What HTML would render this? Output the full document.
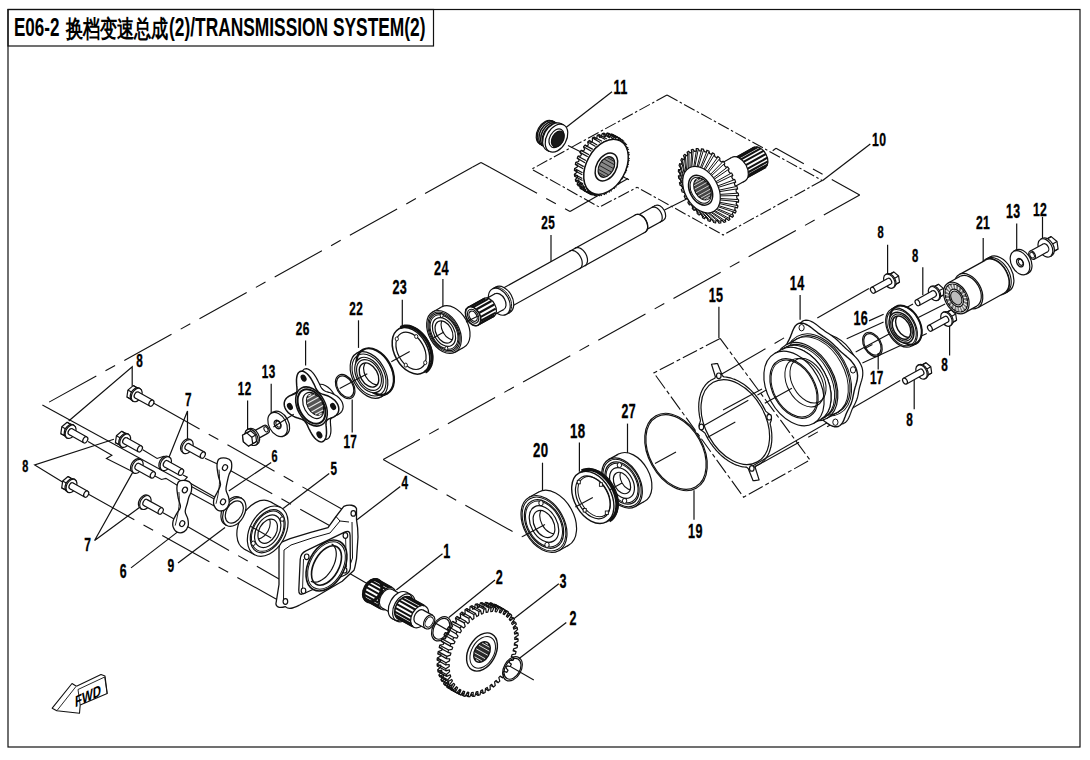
<!DOCTYPE html>
<html><head><meta charset="utf-8"><style>
html,body{margin:0;padding:0;background:#fff;}
svg{display:block;font-family:"Liberation Sans",sans-serif;}
text{fill:#000;}
</style></head><body>
<svg width="1090" height="760" viewBox="0 0 1090 760">
<rect x="0" y="0" width="1090" height="760" fill="#fff"/>
<rect x="8" y="9.5" width="1072" height="737.5" fill="none" stroke="#111" stroke-width="1.2"/>
<rect x="8" y="9.5" width="425.5" height="36.5" fill="none" stroke="#111" stroke-width="1.2"/>
<text x="14" y="36.3" font-size="26" font-weight="bold" textLength="45.5" lengthAdjust="spacingAndGlyphs">E06-2</text>
<text x="65.5" y="37.2" font-size="23.5" textLength="103" lengthAdjust="spacingAndGlyphs" style="font-weight:bold">换档变速总成</text>
<text x="169" y="36.3" font-size="26" font-weight="bold" textLength="256.5" lengthAdjust="spacingAndGlyphs">(2)/TRANSMISSION SYSTEM(2)</text>
<text font-size="20" font-weight="bold" letter-spacing="0.6" stroke="#000" stroke-width="0.35" transform="translate(613.4 94.2) scale(0.64 1)">11</text>
<text font-size="19.1" font-weight="bold" letter-spacing="0.6" stroke="#000" stroke-width="0.35" transform="translate(872 145.9) scale(0.64 1)">10</text>
<text font-size="18.4" font-weight="bold" letter-spacing="0.6" stroke="#000" stroke-width="0.35" transform="translate(541.2 228.9) scale(0.64 1)">25</text>
<text font-size="17.4" font-weight="bold" letter-spacing="0.6" stroke="#000" stroke-width="0.35" transform="translate(877.4 238.2) scale(0.64 1)">8</text>
<text font-size="17.6" font-weight="bold" letter-spacing="0.6" stroke="#000" stroke-width="0.35" transform="translate(912.1 261.8) scale(0.64 1)">8</text>
<text font-size="19.1" font-weight="bold" letter-spacing="0.6" stroke="#000" stroke-width="0.35" transform="translate(975.9 229.3) scale(0.64 1)">21</text>
<text font-size="19.3" font-weight="bold" letter-spacing="0.6" stroke="#000" stroke-width="0.35" transform="translate(1006.1 218.2) scale(0.64 1)">13</text>
<text font-size="19.1" font-weight="bold" letter-spacing="0.6" stroke="#000" stroke-width="0.35" transform="translate(1032.9 215.9) scale(0.64 1)">12</text>
<text font-size="19.9" font-weight="bold" letter-spacing="0.6" stroke="#000" stroke-width="0.35" transform="translate(434 275.1) scale(0.64 1)">24</text>
<text font-size="19.7" font-weight="bold" letter-spacing="0.6" stroke="#000" stroke-width="0.35" transform="translate(392.4 294.4) scale(0.64 1)">23</text>
<text font-size="18.4" font-weight="bold" letter-spacing="0.6" stroke="#000" stroke-width="0.35" transform="translate(349.2 314.9) scale(0.64 1)">22</text>
<text font-size="18.6" font-weight="bold" letter-spacing="0.6" stroke="#000" stroke-width="0.35" transform="translate(295.8 335.2) scale(0.64 1)">26</text>
<text font-size="19.7" font-weight="bold" letter-spacing="0.6" stroke="#000" stroke-width="0.35" transform="translate(789.8 289.5) scale(0.64 1)">14</text>
<text font-size="19.7" font-weight="bold" letter-spacing="0.6" stroke="#000" stroke-width="0.35" transform="translate(708.7 301.5) scale(0.64 1)">15</text>
<text font-size="19.7" font-weight="bold" letter-spacing="0.6" stroke="#000" stroke-width="0.35" transform="translate(853.4 325.4) scale(0.64 1)">16</text>
<text font-size="18.4" font-weight="bold" letter-spacing="0.6" stroke="#000" stroke-width="0.35" transform="translate(941.2 370.7) scale(0.64 1)">8</text>
<text font-size="18.4" font-weight="bold" letter-spacing="0.6" stroke="#000" stroke-width="0.35" transform="translate(869.9 383.5) scale(0.64 1)">17</text>
<text font-size="18.4" font-weight="bold" letter-spacing="0.6" stroke="#000" stroke-width="0.35" transform="translate(906.2 426) scale(0.64 1)">8</text>
<text font-size="18.4" font-weight="bold" letter-spacing="0.6" stroke="#000" stroke-width="0.35" transform="translate(136.2 366.9) scale(0.64 1)">8</text>
<text font-size="18.3" font-weight="bold" letter-spacing="0.6" stroke="#000" stroke-width="0.35" transform="translate(261.8 377.5) scale(0.64 1)">13</text>
<text font-size="18.3" font-weight="bold" letter-spacing="0.6" stroke="#000" stroke-width="0.35" transform="translate(237.8 395) scale(0.64 1)">12</text>
<text font-size="18.4" font-weight="bold" letter-spacing="0.6" stroke="#000" stroke-width="0.35" transform="translate(185 405.6) scale(0.64 1)">7</text>
<text font-size="18.4" font-weight="bold" letter-spacing="0.6" stroke="#000" stroke-width="0.35" transform="translate(343.4 447.8) scale(0.64 1)">17</text>
<text font-size="17" font-weight="bold" letter-spacing="0.6" stroke="#000" stroke-width="0.35" transform="translate(271.4 461.6) scale(0.64 1)">6</text>
<text font-size="17" font-weight="bold" letter-spacing="0.6" stroke="#000" stroke-width="0.35" transform="translate(22.2 471.6) scale(0.64 1)">8</text>
<text font-size="18.3" font-weight="bold" letter-spacing="0.6" stroke="#000" stroke-width="0.35" transform="translate(330.4 475.4) scale(0.64 1)">5</text>
<text font-size="18.4" font-weight="bold" letter-spacing="0.6" stroke="#000" stroke-width="0.35" transform="translate(401.6 488.6) scale(0.64 1)">4</text>
<text font-size="20.7" font-weight="bold" letter-spacing="0.6" stroke="#000" stroke-width="0.35" transform="translate(533 457.3) scale(0.64 1)">20</text>
<text font-size="20.7" font-weight="bold" letter-spacing="0.6" stroke="#000" stroke-width="0.35" transform="translate(569.9 438.3) scale(0.64 1)">18</text>
<text font-size="19.3" font-weight="bold" letter-spacing="0.6" stroke="#000" stroke-width="0.35" transform="translate(621.4 418.2) scale(0.64 1)">27</text>
<text font-size="19.6" font-weight="bold" letter-spacing="0.6" stroke="#000" stroke-width="0.35" transform="translate(688.1 538.4) scale(0.64 1)">19</text>
<text font-size="18.9" font-weight="bold" letter-spacing="0.6" stroke="#000" stroke-width="0.35" transform="translate(84.2 550.7) scale(0.64 1)">7</text>
<text font-size="19.3" font-weight="bold" letter-spacing="0.6" stroke="#000" stroke-width="0.35" transform="translate(119.7 577.7) scale(0.64 1)">6</text>
<text font-size="18.9" font-weight="bold" letter-spacing="0.6" stroke="#000" stroke-width="0.35" transform="translate(167.6 572.2) scale(0.64 1)">9</text>
<text font-size="19.6" font-weight="bold" letter-spacing="0.6" stroke="#000" stroke-width="0.35" transform="translate(443.2 557.7) scale(0.64 1)">1</text>
<text font-size="19.7" font-weight="bold" letter-spacing="0.6" stroke="#000" stroke-width="0.35" transform="translate(495.7 584) scale(0.64 1)">2</text>
<text font-size="19.6" font-weight="bold" letter-spacing="0.6" stroke="#000" stroke-width="0.35" transform="translate(559.4 587.7) scale(0.64 1)">3</text>
<text font-size="19.6" font-weight="bold" letter-spacing="0.6" stroke="#000" stroke-width="0.35" transform="translate(569.4 625.2) scale(0.64 1)">2</text>
<path d="M612 91.7L566.3 127.2" fill="none" stroke="#111" stroke-width="1.2"/>
<path d="M870.3 144L822.3 180.7" fill="none" stroke="#111" stroke-width="1.2"/>
<path d="M551 235L551 265.5" fill="none" stroke="#111" stroke-width="1.2"/>
<path d="M887.6 244.8L887.6 273.9" fill="none" stroke="#111" stroke-width="1.2"/>
<path d="M922.8 267.2L922.8 295" fill="none" stroke="#111" stroke-width="1.2"/>
<path d="M983.2 238L983.2 269.4" fill="none" stroke="#111" stroke-width="1.2"/>
<path d="M1016.7 223.6L1016.7 253.8" fill="none" stroke="#111" stroke-width="1.2"/>
<path d="M1042.5 216.8L1042.5 247" fill="none" stroke="#111" stroke-width="1.2"/>
<path d="M869 320.9L883.6 314.2" fill="none" stroke="#111" stroke-width="1.2"/>
<path d="M949.6 322L949.6 355.5" fill="none" stroke="#111" stroke-width="1.2"/>
<path d="M442.9 279L442.9 308" fill="none" stroke="#111" stroke-width="1.2"/>
<path d="M402.3 299.7L402.3 330" fill="none" stroke="#111" stroke-width="1.2"/>
<path d="M358.5 320.3L358.5 347.9" fill="none" stroke="#111" stroke-width="1.2"/>
<path d="M305.6 340.5L305.6 365.4" fill="none" stroke="#111" stroke-width="1.2"/>
<path d="M271.2 383.8L271.2 414.2" fill="none" stroke="#111" stroke-width="1.2"/>
<path d="M247.6 400.4L247.6 428.9" fill="none" stroke="#111" stroke-width="1.2"/>
<path d="M352.2 399.4L352.2 432.6" fill="none" stroke="#111" stroke-width="1.2"/>
<path d="M800.1 294.9L800.1 319.7" fill="none" stroke="#111" stroke-width="1.2"/>
<path d="M718.9 306.8L718.9 338.1" fill="none" stroke="#111" stroke-width="1.2"/>
<path d="M878.2 352.9L878.2 369.4" fill="none" stroke="#111" stroke-width="1.2"/>
<path d="M914.2 377.9L914.2 409.2" fill="none" stroke="#111" stroke-width="1.2"/>
<path d="M132.2 386L132.2 366.7L68.7 421" fill="none" stroke="#111" stroke-width="1.2"/>
<path d="M187.5 439.4L187.5 411L168 459.7" fill="none" stroke="#111" stroke-width="1.2"/>
<path d="M113.9 439.2L34.7 465L63.3 482.5" fill="none" stroke="#111" stroke-width="1.2"/>
<path d="M134.2 469.6L94.6 540.5L139.7 507.3" fill="none" stroke="#111" stroke-width="1.2"/>
<path d="M131 567.9L178 531.6" fill="none" stroke="#111" stroke-width="1.2"/>
<path d="M178 563L225 527.4" fill="none" stroke="#111" stroke-width="1.2"/>
<path d="M271.2 462.4L228.8 490.9" fill="none" stroke="#111" stroke-width="1.2"/>
<path d="M329.2 473.4L283.1 508.4" fill="none" stroke="#111" stroke-width="1.2"/>
<path d="M400.3 486.6L357 519.7" fill="none" stroke="#111" stroke-width="1.2"/>
<path d="M542.5 462.7L542.5 490.7" fill="none" stroke="#111" stroke-width="1.2"/>
<path d="M579.4 442.6L579.4 471.7" fill="none" stroke="#111" stroke-width="1.2"/>
<path d="M627.5 423.6L627.5 453.8" fill="none" stroke="#111" stroke-width="1.2"/>
<path d="M694 490.3L694 519.8" fill="none" stroke="#111" stroke-width="1.2"/>
<path d="M442.5 553.8L396.3 590" fill="none" stroke="#111" stroke-width="1.2"/>
<path d="M495 580L448.8 617.5" fill="none" stroke="#111" stroke-width="1.2"/>
<path d="M558.8 583.8L513.8 618.8" fill="none" stroke="#111" stroke-width="1.2"/>
<path d="M566.3 622.5L518.8 658.8" fill="none" stroke="#111" stroke-width="1.2"/>
<path d="M481 162.4L489.8 167.2" fill="none" stroke="#111" stroke-width="1.1"/>
<path d="M489.8 167.2L570 211.6" fill="none" stroke="#111" stroke-width="1.1" stroke-dasharray="54 10.5 11 10.5"/>
<path d="M481 162.4L472.3 167.3" fill="none" stroke="#111" stroke-width="1.1"/>
<path d="M472.3 167.3L43 405.5" fill="none" stroke="#111" stroke-width="1.1" stroke-dasharray="54 10.5 11 10.5"/>
<path d="M570 211.6L628 178.5" fill="none" stroke="#111" stroke-width="1.2"/>
<path d="M383.2 459.6L390.2 463.5" fill="none" stroke="#111" stroke-width="1.1"/>
<path d="M390.2 463.5L522.1 536.8" fill="none" stroke="#111" stroke-width="1.1" stroke-dasharray="54 10.5 11 10.5"/>
<path d="M383.2 459.6L859.7 195" fill="none" stroke="#111" stroke-width="1.1" stroke-dasharray="54 10.5 11 10.5" stroke-dashoffset="12"/>
<path d="M859.7 195L776 148.3" fill="none" stroke="#111" stroke-width="1.1" stroke-dasharray="54 10.5 11 10.5" stroke-dashoffset="22"/>
<path d="M776 148.3L772.7 150.7" fill="none" stroke="#111" stroke-width="1.1"/>
<path d="M822.2 180.5L723.1 235L637.2 187.3" fill="none" stroke="#111" stroke-width="1.1" stroke-dasharray="12 2.5 2.5 2.5"/>
<path d="M667 95L822.2 180.5" fill="none" stroke="#111" stroke-width="1.1" stroke-dasharray="12 2.5 2.5 2.5"/>
<path d="M667 95L531.6 169.2L599.3 207.1L637.2 187.3" fill="none" stroke="#111" stroke-width="1.1" stroke-dasharray="12 2.5 2.5 2.5"/>
<path d="M868.9 288.4L817.3 317.9" fill="none" stroke="#111" stroke-width="1.1"/>
<path d="M900.2 380.5L751.7 466.4" fill="none" stroke="#111" stroke-width="1.1"/>
<path d="M846.7 338.8L883.6 322" fill="none" stroke="#111" stroke-width="1.1"/>
<path d="M855.7 352L890 333.5" fill="none" stroke="#111" stroke-width="1.1"/>
<path d="M918.3 317.5L945.1 304" fill="none" stroke="#111" stroke-width="1.1"/>
<path d="M981 282.8L1009 267" fill="none" stroke="#111" stroke-width="1.1"/>
<path d="M1024 260.5L1032 256" fill="none" stroke="#111" stroke-width="1.1"/>
<path d="M872.4 344.4L864.5 348.8" fill="none" stroke="#111" stroke-width="1.1"/>
<path d="M913 303.9L887.3 317.9" fill="none" stroke="#111" stroke-width="1.1"/>
<path d="M862.4 362.9L926.8 333.4" fill="none" stroke="#111" stroke-width="1.1"/>
<path d="M568 145.6L581 152" fill="none" stroke="#111" stroke-width="1.1"/>
<path d="M664.5 210L686.6 199" fill="none" stroke="#111" stroke-width="1.1"/>
<path d="M348 572.6L533.8 680" fill="none" stroke="#111" stroke-width="1.1"/>
<path d="M152.5 402.6L351.9 514.7" fill="none" stroke="#111" stroke-width="1.1" stroke-dasharray="54 10.5 11 10.5"/>
<path d="M42.4 405.1L238 512" fill="none" stroke="#111" stroke-width="1.1"/>
<path d="M88 441.5L111.9 455.2L106.4 458.5L132.8 471.7" fill="none" stroke="#111" stroke-width="1.1"/>
<path d="M142.8 449.7L157.1 458.5L163.7 456.3L168 459" fill="none" stroke="#111" stroke-width="1.1"/>
<path d="M154.9 476.1L161.5 479.5L165.9 478.4L184.9 490" fill="none" stroke="#111" stroke-width="1.1"/>
<path d="M183 475L187.3 477.2L184.6 480L223 501.8" fill="none" stroke="#111" stroke-width="1.1"/>
<path d="M205 458.2L225 467.6" fill="none" stroke="#111" stroke-width="1.1"/>
<path d="M225 467.6L350.3 537" fill="none" stroke="#111" stroke-width="1.1" stroke-dasharray="54 10.5 11 10.5"/>
<path d="M184.9 490L291.1 547.9" fill="none" stroke="#111" stroke-width="1.1" stroke-dasharray="54 10.5 11 10.5"/>
<path d="M162.5 512.4L182.2 523.6" fill="none" stroke="#111" stroke-width="1.1"/>
<path d="M182.2 523.6L286 583" fill="none" stroke="#111" stroke-width="1.1" stroke-dasharray="54 10.5 11 10.5"/>
<path d="M87.2 493.5L286.3 604.8" fill="none" stroke="#111" stroke-width="1.1" stroke-dasharray="54 10.5 11 10.5"/>
<path d="M223 501.8L240.8 511.6" fill="none" stroke="#111" stroke-width="1.1"/>
<path d="M250 525.9L271.2 537.9" fill="none" stroke="#111" stroke-width="1.1"/>
<path d="M300 550L326 565" fill="none" stroke="#111" stroke-width="1.1"/>
<path d="M751.8 468.4L835.4 422.2" fill="none" stroke="#111" stroke-width="1.1" stroke-dasharray="54 10.5 11 10.5"/>
<path d="M718.8 375.8L801.6 327.7" fill="none" stroke="#111" stroke-width="1.1" stroke-dasharray="54 10.5 11 10.5"/>
<path d="M701.4 427L783.9 380" fill="none" stroke="#111" stroke-width="1.1" stroke-dasharray="54 10.5 11 10.5"/>
<path d="M617.9 174.2L629 179.7" fill="none" stroke="#111" stroke-width="1.1"/>
<ellipse cx="659.4" cy="212.9" rx="5.5" ry="8.4" transform="rotate(-29 659.4 212.9)" fill="#fff" stroke="#111" stroke-width="1.2"/>
<path d="M644.2 230.9L663.5 220.3L655.3 205.6L636.1 216.3Z" fill="#fff" stroke="none"/>
<path d="M644.2 230.9L663.5 220.3M636.1 216.3L655.3 205.6" stroke="#111" stroke-width="1.2" fill="none"/>
<ellipse cx="640.2" cy="223.6" rx="5.5" ry="8.4" transform="rotate(-29 640.2 223.6)" fill="#fff" stroke="#111" stroke-width="1.2"/>
<path d="M660 222.2L660.6 221.8L661.1 221.3L661.5 220.6L661.8 219.9L662.1 219.1L662.2 218.2L662.2 217.2L662.1 216.2L661.9 215.2L661.6 214.2L661.2 213.2L660.7 212.2L660.2 211.3L659.5 210.4L658.8 209.6L658.1 208.9L657.3 208.3L656.4 207.8L655.6 207.4L654.8 207.2L654 207.1L653.2 207.1L652.5 207.2L651.8 207.5" fill="none" stroke="#111" stroke-width="1.2"/>
<ellipse cx="640.2" cy="223.6" rx="6.6" ry="10" transform="rotate(-29 640.2 223.6)" fill="#fff" stroke="#111" stroke-width="1.2"/>
<path d="M507.7 308.5L645 232.3L635.3 214.9L498 291Z" fill="#fff" stroke="none"/>
<path d="M507.7 308.5L645 232.3M498 291L635.3 214.9" stroke="#111" stroke-width="1.2" fill="none"/>
<ellipse cx="502.8" cy="299.7" rx="6.6" ry="10" transform="rotate(-29 502.8 299.7)" fill="#fff" stroke="#111" stroke-width="1.2"/>
<path d="M645 232.3L645.7 231.9L646.3 231.2L646.8 230.5L647.2 229.6L647.5 228.6L647.7 227.5L647.7 226.4L647.6 225.2L647.3 224L647 222.8L646.5 221.6L645.9 220.4L645.2 219.3L644.5 218.2L643.6 217.3L642.7 216.5L641.8 215.7L640.8 215.2L639.8 214.7L638.8 214.4L637.9 214.3L637 214.3L636.1 214.5L635.3 214.9" fill="none" stroke="#111" stroke-width="1.2"/>
<path d="M579.5 268.9L580.2 268.4L580.9 267.7L581.4 267L581.8 266.1L582.1 265.1L582.2 264L582.2 262.8L582.1 261.6L581.9 260.4L581.5 259.1L581 257.9L580.4 256.7L579.7 255.6L579 254.5L578.1 253.5L577.2 252.7L576.2 251.9L575.2 251.3L574.2 250.9L573.2 250.6L572.2 250.5L571.3 250.5L570.4 250.7L569.6 251" fill="none" stroke="#111" stroke-width="1.2"/>
<path d="M584.7 266L585.5 265.5L586.1 264.8L586.6 264L587 263.1L587.3 262.1L587.5 261.1L587.5 259.9L587.4 258.7L587.1 257.5L586.8 256.2L586.3 255L585.7 253.8L585 252.7L584.2 251.6L583.4 250.6L582.4 249.8L581.5 249L580.5 248.4L579.5 248L578.5 247.7L577.5 247.6L576.6 247.6L575.7 247.8L574.9 248.1" fill="none" stroke="#111" stroke-width="1.2"/>
<ellipse cx="502.8" cy="299.7" rx="9.6" ry="14.5" transform="rotate(-29 502.8 299.7)" fill="#fff" stroke="#111" stroke-width="1.2"/>
<path d="M506.4 314.3L509.9 312.4L495.8 287L492.3 289Z" fill="#fff" stroke="none"/>
<path d="M506.4 314.3L509.9 312.4M492.3 289L495.8 287" stroke="#111" stroke-width="1.2" fill="none"/>
<ellipse cx="499.3" cy="301.7" rx="9.6" ry="14.5" transform="rotate(-29 499.3 301.7)" fill="#fff" stroke="#111" stroke-width="1.2"/>
<path d="M507.7 313.6L508.7 312.9L509.6 312L510.3 310.9L510.9 309.6L511.3 308.2L511.5 306.6L511.6 305L511.4 303.3L511.1 301.5L510.6 299.7L509.9 298L509 296.3L508 294.7L506.9 293.2L505.7 291.8L504.4 290.6L503 289.5L501.6 288.7L500.2 288L498.7 287.6L497.4 287.4L496 287.5L494.8 287.7L493.6 288.2" fill="none" stroke="#111" stroke-width="1"/>
<ellipse cx="499.3" cy="301.7" rx="5.9" ry="9" transform="rotate(-29 499.3 301.7)" fill="#fff" stroke="#111" stroke-width="1.2"/>
<path d="M493.2 315.3L503.7 309.5L495 293.8L484.5 299.6Z" fill="#fff" stroke="none"/>
<path d="M493.2 315.3L503.7 309.5M484.5 299.6L495 293.8" stroke="#111" stroke-width="1.2" fill="none"/>
<ellipse cx="488.8" cy="307.5" rx="5.9" ry="9" transform="rotate(-29 488.8 307.5)" fill="#fff" stroke="#111" stroke-width="1.2"/>
<ellipse cx="488.8" cy="307.5" rx="6.7" ry="10.2" transform="rotate(-29 488.8 307.5)" fill="#fff" stroke="#111" stroke-width="1.2"/>
<path d="M478 325.1L493.8 316.4L483.9 298.6L468.2 307.3Z" fill="#fff" stroke="none"/>
<path d="M478 325.1L493.8 316.4M468.2 307.3L483.9 298.6" stroke="#111" stroke-width="1.2" fill="none"/>
<ellipse cx="473.1" cy="316.2" rx="6.7" ry="10.2" transform="rotate(-29 473.1 316.2)" fill="#fff" stroke="#111" stroke-width="1.2"/>
<path d="M479.5 323.8L494.4 315.5" fill="none" stroke="#111" stroke-width="2.2"/>
<path d="M480.9 320.8L495.8 312.6" fill="none" stroke="#111" stroke-width="2.2"/>
<path d="M480.8 316.9L495.7 308.6" fill="none" stroke="#111" stroke-width="2.2"/>
<path d="M479.3 312.8L494.2 304.5" fill="none" stroke="#111" stroke-width="2.2"/>
<path d="M476.6 309.3L491.5 301" fill="none" stroke="#111" stroke-width="2.2"/>
<path d="M473.3 307.1L488.2 298.9" fill="none" stroke="#111" stroke-width="2.2"/>
<path d="M470.1 306.7L485 298.5" fill="none" stroke="#111" stroke-width="2.2"/>
<ellipse cx="473.1" cy="316.2" rx="6.7" ry="10.2" transform="rotate(-29 473.1 316.2)" fill="#fff" stroke="#111" stroke-width="1.6"/>
<ellipse cx="473.1" cy="316.2" rx="5" ry="7.5" transform="rotate(-29 473.1 316.2)" fill="#fff" stroke="#111" stroke-width="1.1"/>
<ellipse cx="473.1" cy="316.2" rx="3.6" ry="5.5" transform="rotate(-29 473.1 316.2)" fill="#fff" stroke="#111" stroke-width="1.2"/>
<ellipse cx="759.2" cy="157.7" rx="7.6" ry="11.5" transform="rotate(-29 759.2 157.7)" fill="#fff" stroke="#111" stroke-width="1.2"/>
<path d="M743.8 179.4L764.8 167.8L753.6 147.6L732.7 159.3Z" fill="#fff" stroke="none"/>
<path d="M743.8 179.4L764.8 167.8M732.7 159.3L753.6 147.6" stroke="#111" stroke-width="1.2" fill="none"/>
<ellipse cx="738.2" cy="169.3" rx="7.6" ry="11.5" transform="rotate(-29 738.2 169.3)" fill="#fff" stroke="#111" stroke-width="1.2"/>
<path d="M744.9 178.6L765.9 167" fill="none" stroke="#111" stroke-width="2.1"/>
<path d="M746.4 176.2L767.4 164.6" fill="none" stroke="#111" stroke-width="2.1"/>
<path d="M746.9 173L767.9 161.3" fill="none" stroke="#111" stroke-width="2.1"/>
<path d="M746.4 169.3L767.4 157.7" fill="none" stroke="#111" stroke-width="2.1"/>
<path d="M744.9 165.7L765.9 154" fill="none" stroke="#111" stroke-width="2.1"/>
<path d="M742.6 162.4L763.6 150.8" fill="none" stroke="#111" stroke-width="2.1"/>
<path d="M739.7 160.1L760.7 148.4" fill="none" stroke="#111" stroke-width="2.1"/>
<path d="M736.7 158.8L757.7 147.2" fill="none" stroke="#111" stroke-width="2.1"/>
<path d="M733.9 158.8L754.9 147.2" fill="none" stroke="#111" stroke-width="2.1"/>
<ellipse cx="738.2" cy="169.3" rx="8.9" ry="13.5" transform="rotate(-29 738.2 169.3)" fill="#fff" stroke="#111" stroke-width="1.2"/>
<path d="M723.8 192.8L744.8 181.1L731.7 157.5L710.7 169.2Z" fill="#fff" stroke="none"/>
<path d="M723.8 192.8L744.8 181.1M710.7 169.2L731.7 157.5" stroke="#111" stroke-width="1.2" fill="none"/>
<ellipse cx="717.2" cy="181" rx="8.9" ry="13.5" transform="rotate(-29 717.2 181)" fill="#fff" stroke="#111" stroke-width="1.2"/>
<path d="M726.7 218.6L728.5 220.4L729.9 219.5L729.1 216.9L730.3 215.9L732.3 217.3L733.5 216L732.3 213.5L733.3 212.1L735.3 213.1L736.1 211.4L734.7 209.1L735.3 207.4L737.4 208L737.9 206L736.2 203.9L736.5 202L738.5 202.1L738.6 199.9L736.8 198.1L736.7 196L738.6 195.7L738.3 193.4L736.3 191.9L736 189.7L737.6 188.9L737 186.5L735 185.5L734.3 183.3L735.7 182.1L734.8 179.7L732.7 179.1L731.7 176.9L732.8 175.3L731.6 173L729.6 172.9L728.4 170.8L729.1 168.9L727.6 166.8L725.8 167.2L724.3 165.3L724.7 163.1L723 161.2L721.4 162.1L719.8 160.5L719.8 158.1L717.9 156.5L716.6 157.8L714.8 156.5L714.4 154L712.5 152.8L711.5 154.4L709.6 153.5L708.9 151L706.9 150.2L706.3 152.1L704.4 151.6L703.3 149.1L701.4 148.8L701.1 151L699.4 150.9L698 148.6L696.2 148.7L696.2 151.1L694.6 151.4L693 149.3L691.3 149.8L691.8 152.3L690.3 153L688.5 151.2L687.1 152.2L687.9 154.7L686.6 155.8L684.7 154.3L683.5 155.7L684.7 158.1L683.7 159.6L681.7 158.5L680.8 160.2L682.3 162.5L681.6 164.3L679.6 163.6L679.1 165.6L680.8 167.7L680.5 169.7L678.5 169.5L678.4 171.7L680.2 173.5L680.3 175.6L678.4 175.9L678.7 178.3L680.6 179.7L681 181.9L679.4 182.7L680 185.1L682 186.1L682.7 188.4L681.3 189.6L682.2 192L684.3 192.5L685.3 194.7L684.2 196.3L685.4 198.6L687.4 198.7L688.6 200.8L687.9 202.7L689.4 204.8L691.2 204.5L692.7 206.3L692.3 208.5L694 210.4L695.6 209.6L697.2 211.2L697.2 213.6L699.1 215.1L700.4 213.9L702.2 215.2L702.6 217.7L704.5 218.8L705.5 217.2L707.3 218.1L708.1 220.7L710.1 221.5L710.7 219.5L712.6 220L713.7 222.5L715.6 222.8L715.9 220.6L717.6 220.7L719 223.1L720.8 223L720.8 220.6L722.4 220.3L724 222.4L725.7 221.8L725.2 219.3Z" fill="#fff" stroke="#111" stroke-width="1.2" stroke-linejoin="round"/>
<path d="M714 211.3L728 219.6" fill="none" stroke="#111" stroke-width="1"/>
<path d="M714.9 210.7L729.4 218.6" fill="none" stroke="#111" stroke-width="1"/>
<path d="M716.4 209.4L731.7 216.5" fill="none" stroke="#111" stroke-width="1"/>
<path d="M717.1 208.5L732.8 215.2" fill="none" stroke="#111" stroke-width="1"/>
<path d="M718.3 206.8L734.6 212.4" fill="none" stroke="#111" stroke-width="1"/>
<path d="M718.8 205.7L735.5 210.8" fill="none" stroke="#111" stroke-width="1"/>
<path d="M719.6 203.6L736.7 207.5" fill="none" stroke="#111" stroke-width="1"/>
<path d="M719.9 202.3L737.2 205.5" fill="none" stroke="#111" stroke-width="1"/>
<path d="M720.2 199.9L737.7 201.7" fill="none" stroke="#111" stroke-width="1"/>
<path d="M720.3 198.5L737.9 199.6" fill="none" stroke="#111" stroke-width="1"/>
<path d="M720.3 195.9L737.8 195.5" fill="none" stroke="#111" stroke-width="1"/>
<path d="M720.2 194.4L737.6 193.2" fill="none" stroke="#111" stroke-width="1"/>
<path d="M719.7 191.6L736.9 188.9" fill="none" stroke="#111" stroke-width="1"/>
<path d="M719.3 190.1L736.3 186.5" fill="none" stroke="#111" stroke-width="1"/>
<path d="M718.5 187.3L735 182.2" fill="none" stroke="#111" stroke-width="1"/>
<path d="M717.9 185.9L734.1 179.8" fill="none" stroke="#111" stroke-width="1"/>
<path d="M716.7 183.1L732.2 175.6" fill="none" stroke="#111" stroke-width="1"/>
<path d="M715.9 181.7L731 173.3" fill="none" stroke="#111" stroke-width="1"/>
<path d="M714.4 179.1L728.6 169.3" fill="none" stroke="#111" stroke-width="1"/>
<path d="M713.5 177.8L727.2 167.3" fill="none" stroke="#111" stroke-width="1"/>
<path d="M711.6 175.5L724.3 163.7" fill="none" stroke="#111" stroke-width="1"/>
<path d="M710.6 174.3L722.7 161.9" fill="none" stroke="#111" stroke-width="1"/>
<path d="M708.5 172.4L719.5 158.8" fill="none" stroke="#111" stroke-width="1"/>
<path d="M707.4 171.4L717.7 157.3" fill="none" stroke="#111" stroke-width="1"/>
<path d="M705.2 169.8L714.3 154.8" fill="none" stroke="#111" stroke-width="1"/>
<path d="M704 169.1L712.4 153.6" fill="none" stroke="#111" stroke-width="1"/>
<path d="M701.7 167.9L708.9 151.8" fill="none" stroke="#111" stroke-width="1"/>
<path d="M700.5 167.4L707 151.1" fill="none" stroke="#111" stroke-width="1"/>
<path d="M698.3 166.8L703.5 150.1" fill="none" stroke="#111" stroke-width="1"/>
<path d="M697.1 166.6L701.6 149.7" fill="none" stroke="#111" stroke-width="1"/>
<path d="M694.9 166.4L698.2 149.5" fill="none" stroke="#111" stroke-width="1"/>
<path d="M693.8 166.5L696.5 149.6" fill="none" stroke="#111" stroke-width="1"/>
<path d="M691.8 166.9L693.3 150.2" fill="none" stroke="#111" stroke-width="1"/>
<path d="M690.8 167.2L691.7 150.7" fill="none" stroke="#111" stroke-width="1"/>
<path d="M689 168.1L689 152.1" fill="none" stroke="#111" stroke-width="1"/>
<path d="M688.1 168.7L687.6 153" fill="none" stroke="#111" stroke-width="1"/>
<path d="M686.6 170L685.3 155.1" fill="none" stroke="#111" stroke-width="1"/>
<path d="M685.9 170.9L684.2 156.4" fill="none" stroke="#111" stroke-width="1"/>
<path d="M684.7 172.6L682.4 159.2" fill="none" stroke="#111" stroke-width="1"/>
<path d="M684.2 173.7L681.5 160.8" fill="none" stroke="#111" stroke-width="1"/>
<path d="M683.4 175.8L680.3 164.2" fill="none" stroke="#111" stroke-width="1"/>
<path d="M683.1 177.1L679.8 166.1" fill="none" stroke="#111" stroke-width="1"/>
<path d="M682.8 179.5L679.3 169.9" fill="none" stroke="#111" stroke-width="1"/>
<path d="M682.7 180.9L679.1 172.1" fill="none" stroke="#111" stroke-width="1"/>
<path d="M682.7 183.5L679.2 176.2" fill="none" stroke="#111" stroke-width="1"/>
<path d="M682.8 185L679.4 178.5" fill="none" stroke="#111" stroke-width="1"/>
<path d="M683.3 187.8L680.1 182.8" fill="none" stroke="#111" stroke-width="1"/>
<path d="M683.7 189.3L680.7 185.1" fill="none" stroke="#111" stroke-width="1"/>
<path d="M684.5 192.1L682 189.5" fill="none" stroke="#111" stroke-width="1"/>
<path d="M685.1 193.5L682.9 191.8" fill="none" stroke="#111" stroke-width="1"/>
<path d="M686.3 196.3L684.8 196.1" fill="none" stroke="#111" stroke-width="1"/>
<path d="M687.1 197.7L686 198.3" fill="none" stroke="#111" stroke-width="1"/>
<path d="M688.6 200.3L688.4 202.3" fill="none" stroke="#111" stroke-width="1"/>
<path d="M689.5 201.6L689.8 204.4" fill="none" stroke="#111" stroke-width="1"/>
<path d="M691.4 203.9L692.7 208" fill="none" stroke="#111" stroke-width="1"/>
<path d="M692.4 205.1L694.3 209.8" fill="none" stroke="#111" stroke-width="1"/>
<path d="M694.5 207L697.5 212.9" fill="none" stroke="#111" stroke-width="1"/>
<path d="M695.6 208L699.3 214.4" fill="none" stroke="#111" stroke-width="1"/>
<path d="M697.8 209.6L702.7 216.9" fill="none" stroke="#111" stroke-width="1"/>
<path d="M699 210.3L704.6 218" fill="none" stroke="#111" stroke-width="1"/>
<path d="M701.3 211.5L708.1 219.8" fill="none" stroke="#111" stroke-width="1"/>
<path d="M702.5 212L710 220.6" fill="none" stroke="#111" stroke-width="1"/>
<path d="M704.7 212.6L713.5 221.6" fill="none" stroke="#111" stroke-width="1"/>
<path d="M705.9 212.8L715.4 221.9" fill="none" stroke="#111" stroke-width="1"/>
<path d="M708.1 213L718.8 222.1" fill="none" stroke="#111" stroke-width="1"/>
<path d="M709.2 212.9L720.5 222" fill="none" stroke="#111" stroke-width="1"/>
<path d="M711.2 212.5L723.6 221.5" fill="none" stroke="#111" stroke-width="1"/>
<path d="M712.2 212.2L725.2 220.9" fill="none" stroke="#111" stroke-width="1"/>
<ellipse cx="701.5" cy="189.7" rx="16.5" ry="25" transform="rotate(-29 701.5 189.7)" fill="#fff" stroke="#111" stroke-width="1.2"/>
<ellipse cx="700.6" cy="190.2" rx="10.6" ry="16" transform="rotate(-29 700.6 190.2)" fill="#fff" stroke="#111" stroke-width="1.5"/>
<ellipse cx="700.6" cy="190.2" rx="9.2" ry="14" transform="rotate(-29 700.6 190.2)" fill="#fff" stroke="#111" stroke-width="1"/>
<ellipse cx="702.4" cy="189.2" rx="7.6" ry="11.5" transform="rotate(-29 702.4 189.2)" fill="#444" stroke="#111" stroke-width="1.2"/>
<path d="M708.7 198.1L706.5 199.3" fill="none" stroke="#ccc" stroke-width="1"/>
<path d="M710.2 195.8L703.8 199.3" fill="none" stroke="#ccc" stroke-width="1"/>
<path d="M710.7 192.7L700.9 198.1" fill="none" stroke="#ccc" stroke-width="1"/>
<path d="M710.2 189.2L698.2 195.8" fill="none" stroke="#ccc" stroke-width="1"/>
<path d="M708.7 185.7L696 192.7" fill="none" stroke="#ccc" stroke-width="1"/>
<path d="M706.5 182.6L694.6 189.2" fill="none" stroke="#ccc" stroke-width="1"/>
<path d="M703.8 180.3L694.1 185.7" fill="none" stroke="#ccc" stroke-width="1"/>
<path d="M700.9 179.1L694.6 182.6" fill="none" stroke="#ccc" stroke-width="1"/>
<path d="M698.2 179.1L696 180.4" fill="none" stroke="#ccc" stroke-width="1"/>
<path d="M885.5 276.5L889.9 274.1L893.8 271.9L898.6 276L899.5 282.2L891.2 286.8L886.4 282.8Z" fill="#fff" stroke="#111" stroke-width="1.2" stroke-linejoin="round"/>
<path d="M895.1 284.7L899.5 282.2" fill="none" stroke="#111" stroke-width="1.1"/>
<path d="M894.2 278.4L898.6 276" fill="none" stroke="#111" stroke-width="1.1"/>
<path d="M889.4 274.4L893.8 271.9" fill="none" stroke="#111" stroke-width="1.1"/>
<path d="M885.5 276.5L889.9 274.1" fill="none" stroke="#111" stroke-width="1.1"/>
<path d="M895.1 284.7L894.2 278.4L889.4 274.4L885.5 276.5L886.4 282.8L891.2 286.8Z" fill="#fff" stroke="#111" stroke-width="1.2" stroke-linejoin="round"/>
<ellipse cx="890.3" cy="280.6" rx="5" ry="7.6" transform="rotate(-29 890.3 280.6)" fill="#fff" stroke="#111" stroke-width="1.2"/>
<path d="M892.9 287.8L894 287.2L886.6 274L885.6 274.5Z" fill="#fff" stroke="none"/>
<path d="M892.9 287.8L894 287.2M885.6 274.5L886.6 274" stroke="#111" stroke-width="1.2" fill="none"/>
<ellipse cx="889.3" cy="281.2" rx="5" ry="7.6" transform="rotate(-29 889.3 281.2)" fill="#fff" stroke="#111" stroke-width="1.2"/>
<ellipse cx="889.3" cy="281.2" rx="2.1" ry="3.2" transform="rotate(-29 889.3 281.2)" fill="#fff" stroke="#111" stroke-width="1.2"/>
<path d="M874.4 293.1L890.8 284L887.7 278.4L871.3 287.5Z" fill="#fff" stroke="none"/>
<path d="M874.4 293.1L890.8 284M871.3 287.5L887.7 278.4" stroke="#111" stroke-width="1.2" fill="none"/>
<ellipse cx="872.8" cy="290.3" rx="2.1" ry="3.2" transform="rotate(-29 872.8 290.3)" fill="#fff" stroke="#111" stroke-width="1.2"/>
<path d="M930.2 288.9L934.6 286.5L938.5 284.3L943.3 288.4L944.2 294.6L935.9 299.2L931.1 295.2Z" fill="#fff" stroke="#111" stroke-width="1.2" stroke-linejoin="round"/>
<path d="M939.8 297.1L944.2 294.6" fill="none" stroke="#111" stroke-width="1.1"/>
<path d="M938.9 290.8L943.3 288.4" fill="none" stroke="#111" stroke-width="1.1"/>
<path d="M934.1 286.8L938.5 284.3" fill="none" stroke="#111" stroke-width="1.1"/>
<path d="M930.2 288.9L934.6 286.5" fill="none" stroke="#111" stroke-width="1.1"/>
<path d="M939.8 297.1L938.9 290.8L934.1 286.8L930.2 288.9L931.1 295.2L935.9 299.2Z" fill="#fff" stroke="#111" stroke-width="1.2" stroke-linejoin="round"/>
<ellipse cx="935" cy="293" rx="5" ry="7.6" transform="rotate(-29 935 293)" fill="#fff" stroke="#111" stroke-width="1.2"/>
<path d="M937.6 300.2L938.7 299.6L931.3 286.4L930.3 286.9Z" fill="#fff" stroke="none"/>
<path d="M937.6 300.2L938.7 299.6M930.3 286.9L931.3 286.4" stroke="#111" stroke-width="1.2" fill="none"/>
<ellipse cx="934" cy="293.6" rx="5" ry="7.6" transform="rotate(-29 934 293.6)" fill="#fff" stroke="#111" stroke-width="1.2"/>
<ellipse cx="934" cy="293.6" rx="2.1" ry="3.2" transform="rotate(-29 934 293.6)" fill="#fff" stroke="#111" stroke-width="1.2"/>
<path d="M919.1 305.5L935.5 296.4L932.4 290.8L916 299.9Z" fill="#fff" stroke="none"/>
<path d="M919.1 305.5L935.5 296.4M916 299.9L932.4 290.8" stroke="#111" stroke-width="1.2" fill="none"/>
<ellipse cx="917.5" cy="302.7" rx="2.1" ry="3.2" transform="rotate(-29 917.5 302.7)" fill="#fff" stroke="#111" stroke-width="1.2"/>
<path d="M942.6 314.5L947 312.1L950.9 309.9L955.7 314L956.6 320.2L948.3 324.8L943.5 320.8Z" fill="#fff" stroke="#111" stroke-width="1.2" stroke-linejoin="round"/>
<path d="M952.2 322.7L956.6 320.2" fill="none" stroke="#111" stroke-width="1.1"/>
<path d="M951.3 316.4L955.7 314" fill="none" stroke="#111" stroke-width="1.1"/>
<path d="M946.5 312.4L950.9 309.9" fill="none" stroke="#111" stroke-width="1.1"/>
<path d="M942.6 314.5L947 312.1" fill="none" stroke="#111" stroke-width="1.1"/>
<path d="M952.2 322.7L951.3 316.4L946.5 312.4L942.6 314.5L943.5 320.8L948.3 324.8Z" fill="#fff" stroke="#111" stroke-width="1.2" stroke-linejoin="round"/>
<ellipse cx="947.4" cy="318.6" rx="5" ry="7.6" transform="rotate(-29 947.4 318.6)" fill="#fff" stroke="#111" stroke-width="1.2"/>
<path d="M950 325.8L951.1 325.2L943.7 312L942.7 312.5Z" fill="#fff" stroke="none"/>
<path d="M950 325.8L951.1 325.2M942.7 312.5L943.7 312" stroke="#111" stroke-width="1.2" fill="none"/>
<ellipse cx="946.4" cy="319.2" rx="5" ry="7.6" transform="rotate(-29 946.4 319.2)" fill="#fff" stroke="#111" stroke-width="1.2"/>
<ellipse cx="946.4" cy="319.2" rx="2.1" ry="3.2" transform="rotate(-29 946.4 319.2)" fill="#fff" stroke="#111" stroke-width="1.2"/>
<path d="M931.5 331.1L947.9 322L944.8 316.4L928.4 325.5Z" fill="#fff" stroke="none"/>
<path d="M931.5 331.1L947.9 322M928.4 325.5L944.8 316.4" stroke="#111" stroke-width="1.2" fill="none"/>
<ellipse cx="929.9" cy="328.3" rx="2.1" ry="3.2" transform="rotate(-29 929.9 328.3)" fill="#fff" stroke="#111" stroke-width="1.2"/>
<path d="M917.7 367.3L922.1 364.9L926 362.7L930.8 366.8L931.7 373L923.4 377.6L918.6 373.6Z" fill="#fff" stroke="#111" stroke-width="1.2" stroke-linejoin="round"/>
<path d="M927.3 375.5L931.7 373" fill="none" stroke="#111" stroke-width="1.1"/>
<path d="M926.4 369.2L930.8 366.8" fill="none" stroke="#111" stroke-width="1.1"/>
<path d="M921.6 365.2L926 362.7" fill="none" stroke="#111" stroke-width="1.1"/>
<path d="M917.7 367.3L922.1 364.9" fill="none" stroke="#111" stroke-width="1.1"/>
<path d="M927.3 375.5L926.4 369.2L921.6 365.2L917.7 367.3L918.6 373.6L923.4 377.6Z" fill="#fff" stroke="#111" stroke-width="1.2" stroke-linejoin="round"/>
<ellipse cx="922.5" cy="371.4" rx="5" ry="7.6" transform="rotate(-29 922.5 371.4)" fill="#fff" stroke="#111" stroke-width="1.2"/>
<path d="M925.1 378.6L926.2 378L918.8 364.8L917.8 365.3Z" fill="#fff" stroke="none"/>
<path d="M925.1 378.6L926.2 378M917.8 365.3L918.8 364.8" stroke="#111" stroke-width="1.2" fill="none"/>
<ellipse cx="921.5" cy="372" rx="5" ry="7.6" transform="rotate(-29 921.5 372)" fill="#fff" stroke="#111" stroke-width="1.2"/>
<ellipse cx="921.5" cy="372" rx="2.1" ry="3.2" transform="rotate(-29 921.5 372)" fill="#fff" stroke="#111" stroke-width="1.2"/>
<path d="M906.6 383.9L923 374.8L919.9 369.2L903.5 378.3Z" fill="#fff" stroke="none"/>
<path d="M906.6 383.9L923 374.8M903.5 378.3L919.9 369.2" stroke="#111" stroke-width="1.2" fill="none"/>
<ellipse cx="905" cy="381.1" rx="2.1" ry="3.2" transform="rotate(-29 905 381.1)" fill="#fff" stroke="#111" stroke-width="1.2"/>
<path d="M1041.2 242.1L1046.4 239.2L1051.2 236.6L1057 241.5L1058.1 249L1052.8 251.9L1048.1 254.5L1042.3 249.6Z" fill="#fff" stroke="#111" stroke-width="1.2" stroke-linejoin="round"/>
<path d="M1052.8 251.9L1058.1 249" fill="none" stroke="#111" stroke-width="1.1"/>
<path d="M1051.7 244.4L1057 241.5" fill="none" stroke="#111" stroke-width="1.1"/>
<path d="M1045.9 239.5L1051.2 236.6" fill="none" stroke="#111" stroke-width="1.1"/>
<path d="M1041.2 242.1L1046.4 239.2" fill="none" stroke="#111" stroke-width="1.1"/>
<path d="M1052.8 251.9L1051.7 244.4L1045.9 239.5L1041.2 242.1L1042.3 249.6L1048.1 254.5Z" fill="#fff" stroke="#111" stroke-width="1.2" stroke-linejoin="round"/>
<ellipse cx="1047" cy="247" rx="6.5" ry="9.8" transform="rotate(-29 1047 247)" fill="#fff" stroke="#111" stroke-width="1.2"/>
<path d="M1050.2 256.4L1051.8 255.6L1042.2 238.4L1040.7 239.3Z" fill="#fff" stroke="none"/>
<path d="M1050.2 256.4L1051.8 255.6M1040.7 239.3L1042.2 238.4" stroke="#111" stroke-width="1.2" fill="none"/>
<ellipse cx="1045.4" cy="247.9" rx="6.5" ry="9.8" transform="rotate(-29 1045.4 247.9)" fill="#fff" stroke="#111" stroke-width="1.2"/>
<ellipse cx="1045.4" cy="247.9" rx="3" ry="4.5" transform="rotate(-29 1045.4 247.9)" fill="#fff" stroke="#111" stroke-width="1.2"/>
<path d="M1034.3 259.2L1047.6 251.8L1043.2 243.9L1029.9 251.3Z" fill="#fff" stroke="none"/>
<path d="M1034.3 259.2L1047.6 251.8M1029.9 251.3L1043.2 243.9" stroke="#111" stroke-width="1.2" fill="none"/>
<ellipse cx="1032.1" cy="255.2" rx="3" ry="4.5" transform="rotate(-29 1032.1 255.2)" fill="#fff" stroke="#111" stroke-width="1.2"/>
<ellipse cx="1032.1" cy="255.2" rx="2" ry="3" transform="rotate(-29 1032.1 255.2)" fill="none" stroke="#111" stroke-width="1"/>
<ellipse cx="1022.2" cy="261.5" rx="8.6" ry="13" transform="rotate(-29 1022.2 261.5)" fill="#fff" stroke="#111" stroke-width="1.2"/>
<path d="M1026.3 274.1L1028.5 272.9L1015.9 250.1L1013.7 251.3Z" fill="#fff" stroke="none"/>
<path d="M1026.3 274.1L1028.5 272.9M1013.7 251.3L1015.9 250.1" stroke="#111" stroke-width="1.2" fill="none"/>
<ellipse cx="1020" cy="262.7" rx="8.6" ry="13" transform="rotate(-29 1020 262.7)" fill="#fff" stroke="#111" stroke-width="1.2"/>
<ellipse cx="1020" cy="262.7" rx="3" ry="4.5" transform="rotate(-29 1020 262.7)" fill="#fff" stroke="#111" stroke-width="1.4"/>
<ellipse cx="1020.7" cy="262.3" rx="2.1" ry="3.2" transform="rotate(-29 1020.7 262.3)" fill="none" stroke="#111" stroke-width="1"/>
<ellipse cx="999.2" cy="274.2" rx="12.9" ry="19.5" transform="rotate(-29 999.2 274.2)" fill="#fff" stroke="#111" stroke-width="1.2"/>
<path d="M1004.2 293.7L1008.6 291.3L989.7 257.2L985.3 259.6Z" fill="#fff" stroke="none"/>
<path d="M1004.2 293.7L1008.6 291.3M985.3 259.6L989.7 257.2" stroke="#111" stroke-width="1.2" fill="none"/>
<ellipse cx="994.8" cy="276.7" rx="12.9" ry="19.5" transform="rotate(-29 994.8 276.7)" fill="#fff" stroke="#111" stroke-width="1.2"/>
<path d="M1006 292.8L1007.4 291.8L1008.6 290.6L1009.6 289.1L1010.3 287.3L1010.9 285.4L1011.2 283.3L1011.2 281.1L1011 278.8L1010.5 276.5L1009.9 274.1L1008.9 271.7L1007.8 269.5L1006.5 267.3L1005 265.3L1003.3 263.4L1001.6 261.8L999.7 260.4L997.8 259.2L995.9 258.4L994 257.8L992.1 257.6L990.3 257.6L988.6 258L987.1 258.6" fill="none" stroke="#111" stroke-width="1.1"/>
<ellipse cx="994.8" cy="276.7" rx="12.5" ry="19" transform="rotate(-29 994.8 276.7)" fill="#fff" stroke="#111" stroke-width="1.2"/>
<path d="M977.8 307.8L1004 293.3L985.6 260.1L959.3 274.6Z" fill="#fff" stroke="none"/>
<path d="M977.8 307.8L1004 293.3M959.3 274.6L985.6 260.1" stroke="#111" stroke-width="1.2" fill="none"/>
<ellipse cx="968.5" cy="291.2" rx="12.5" ry="19" transform="rotate(-29 968.5 291.2)" fill="#fff" stroke="#111" stroke-width="1.2"/>
<ellipse cx="968.5" cy="291.2" rx="11.2" ry="17" transform="rotate(-29 968.5 291.2)" fill="#fff" stroke="#111" stroke-width="1.2"/>
<path d="M964.5 312.9L976.8 306.1L960.3 276.3L948.1 283.1Z" fill="#fff" stroke="none"/>
<path d="M964.5 312.9L976.8 306.1M948.1 283.1L960.3 276.3" stroke="#111" stroke-width="1.2" fill="none"/>
<ellipse cx="956.3" cy="298" rx="11.2" ry="17" transform="rotate(-29 956.3 298)" fill="#fff" stroke="#111" stroke-width="1.2"/>
<ellipse cx="956.3" cy="298" rx="9.9" ry="15" transform="rotate(-29 956.3 298)" fill="#777" stroke="#111" stroke-width="1.2"/>
<path d="M960.9 306.3L963.3 310.7" fill="none" stroke="#eee" stroke-width="1.2"/>
<path d="M962.4 305L965.6 308.6" fill="none" stroke="#eee" stroke-width="1.2"/>
<path d="M963.2 302.9L966.9 305.5" fill="none" stroke="#eee" stroke-width="1.2"/>
<path d="M963.4 300.4L967.2 301.7" fill="none" stroke="#eee" stroke-width="1.2"/>
<path d="M962.9 297.7L966.4 297.5" fill="none" stroke="#eee" stroke-width="1.2"/>
<path d="M961.8 295L964.7 293.4" fill="none" stroke="#eee" stroke-width="1.2"/>
<path d="M960.1 292.5L962.1 289.7" fill="none" stroke="#eee" stroke-width="1.2"/>
<path d="M958 290.7L958.9 286.8" fill="none" stroke="#eee" stroke-width="1.2"/>
<path d="M955.8 289.5L955.5 285" fill="none" stroke="#eee" stroke-width="1.2"/>
<path d="M953.6 289.2L952.2 284.5" fill="none" stroke="#eee" stroke-width="1.2"/>
<path d="M951.7 289.7L949.3 285.3" fill="none" stroke="#eee" stroke-width="1.2"/>
<path d="M950.2 291L947 287.4" fill="none" stroke="#eee" stroke-width="1.2"/>
<path d="M949.4 293.1L945.7 290.5" fill="none" stroke="#eee" stroke-width="1.2"/>
<path d="M949.2 295.6L945.4 294.3" fill="none" stroke="#eee" stroke-width="1.2"/>
<path d="M949.7 298.3L946.2 298.5" fill="none" stroke="#eee" stroke-width="1.2"/>
<path d="M950.8 301L947.9 302.6" fill="none" stroke="#eee" stroke-width="1.2"/>
<path d="M952.5 303.5L950.5 306.3" fill="none" stroke="#eee" stroke-width="1.2"/>
<path d="M954.6 305.3L953.7 309.2" fill="none" stroke="#eee" stroke-width="1.2"/>
<path d="M956.8 306.5L957.1 311" fill="none" stroke="#eee" stroke-width="1.2"/>
<path d="M959 306.8L960.4 311.5" fill="none" stroke="#eee" stroke-width="1.2"/>
<ellipse cx="956.3" cy="298" rx="6.3" ry="9.5" transform="rotate(-29 956.3 298)" fill="#fff" stroke="#111" stroke-width="1.2"/>
<ellipse cx="956.3" cy="298" rx="5" ry="7.5" transform="rotate(-29 956.3 298)" fill="#bbb" stroke="#111" stroke-width="1.1"/>
<ellipse cx="905.9" cy="325.2" rx="13.9" ry="21" transform="rotate(-29 905.9 325.2)" fill="#fff" stroke="#111" stroke-width="1.2"/>
<path d="M911.7 346L916.1 343.5L895.7 306.8L891.3 309.2Z" fill="#fff" stroke="none"/>
<path d="M911.7 346L916.1 343.5M891.3 309.2L895.7 306.8" stroke="#111" stroke-width="1.2" fill="none"/>
<ellipse cx="901.5" cy="327.6" rx="13.9" ry="21" transform="rotate(-29 901.5 327.6)" fill="#fff" stroke="#111" stroke-width="1.2"/>
<ellipse cx="905.9" cy="325.2" rx="13.9" ry="21" transform="rotate(-29 905.9 325.2)" fill="none" stroke="#111" stroke-width="2"/>
<ellipse cx="901.5" cy="327.6" rx="12.9" ry="19.5" transform="rotate(-29 901.5 327.6)" fill="none" stroke="#111" stroke-width="1"/>
<ellipse cx="901.5" cy="327.6" rx="10.9" ry="16.5" transform="rotate(-29 901.5 327.6)" fill="#fff" stroke="#111" stroke-width="1.5"/>
<ellipse cx="901.5" cy="327.6" rx="9.6" ry="14.5" transform="rotate(-29 901.5 327.6)" fill="#fff" stroke="#111" stroke-width="1.1"/>
<clipPath id="cp1"><ellipse cx="901.5" cy="327.6" rx="8.2" ry="12.5" transform="rotate(-29 901.5 327.6)"/></clipPath>
<ellipse cx="901.5" cy="327.6" rx="8.2" ry="12.5" transform="rotate(-29 901.5 327.6)" fill="#fff" stroke="#111" stroke-width="1.5"/>
<g clip-path="url(#cp1)"><ellipse cx="905" cy="325.7" rx="8.2" ry="12.5" transform="rotate(-29 905 325.7)" fill="none" stroke="#111" stroke-width="1.4"/></g>
<ellipse cx="872.4" cy="344.4" rx="8.6" ry="13" transform="rotate(-29 872.4 344.4)" fill="none" stroke="#111" stroke-width="1.2"/>
<ellipse cx="872.4" cy="344.4" rx="7.6" ry="11.5" transform="rotate(-29 872.4 344.4)" fill="none" stroke="#111" stroke-width="1.2"/>
<ellipse cx="834.2" cy="366.2" rx="22.4" ry="34" transform="rotate(-29 834.2 366.2)" fill="#fff" stroke="#111" stroke-width="1.2"/>
<path d="M840.2 401.8L850.7 395.9L817.7 336.5L807.3 342.3Z" fill="#fff" stroke="none"/>
<path d="M840.2 401.8L850.7 395.9M807.3 342.3L817.7 336.5" stroke="#111" stroke-width="1.2" fill="none"/>
<ellipse cx="823.7" cy="372" rx="22.4" ry="34" transform="rotate(-29 823.7 372)" fill="#fff" stroke="#111" stroke-width="1.2"/>
<path d="M848.9 417.5L849.8 415.4L850.6 413.4L851.3 411.4L852 409.6L852.8 407.9L853.6 406.3L854.5 404.7L855.3 403.1L856 401.5L856.7 399.8L857.3 398L857.8 396.2L858.2 394.3L858.5 392.3L858.9 390.4L859.3 388.4L859.8 386.5L860.4 384.5L861 382.4L861.7 380.2L862.3 377.9L862.7 375.4L862.8 372.8L862.6 370.1L862 367.4L860.9 364.7L859.5 362.1L857.8 359.7L855.8 357.4L853.8 355.4L851.7 353.5L849.6 351.8L847.7 350.1L845.8 348.5L844.1 346.8L842.4 345.2L840.7 343.5L839.1 341.9L837.4 340.3L835.7 338.8L834 337.4L832.2 336.1L830.4 334.8L828.6 333.6L826.8 332.4L825 331.2L823.1 329.8L821.2 328.4L819.1 326.8L817 325.1L814.8 323.5L812.6 322.1L810.3 321L808 320.3L805.9 320.1L803.9 320.5L802.2 321.4L800.8 322.8L799.5 324.6L798.5 326.5L797.7 328.6L796.9 330.7L796.2 332.6L795.4 334.4L794.7 336.1L793.8 337.8L793 339.3L792.2 340.9L791.5 342.5L790.8 344.2L790.2 346L789.7 347.9L789.3 349.8L788.9 351.7L788.6 353.6L788.2 355.6L787.7 357.6L787.1 359.6L786.5 361.7L785.8 363.8L785.2 366.1L784.8 368.6L784.7 371.2L784.9 373.9L785.5 376.6L786.5 379.3L788 381.9L789.7 384.4L791.7 386.6L793.7 388.7L795.8 390.5L797.9 392.3L799.8 393.9L801.6 395.6L803.4 397.2L805.1 398.9L806.7 400.5L808.4 402.2L810.1 403.7L811.8 405.2L813.5 406.6L815.3 408L817.1 409.2L818.9 410.4L820.7 411.6L822.5 412.8L824.4 414.2L826.3 415.7L828.3 417.3L830.4 418.9L832.6 420.5L834.9 421.9L837.2 423.1L839.5 423.8L841.6 423.9L843.5 423.6L845.3 422.6L846.7 421.2L847.9 419.5Z" fill="#fff" stroke="#111" stroke-width="1.2" stroke-linejoin="round"/>
<path d="M841.3 416L846.5 413.1L801 330.9L795.7 333.8Z" fill="#fff" stroke="none"/>
<path d="M841.3 416L846.5 413.1M795.7 333.8L801 330.9" stroke="#111" stroke-width="1.2" fill="none"/>
<path d="M843.7 420.4L844.5 418.3L845.3 416.3L846 414.3L846.8 412.5L847.6 410.8L848.4 409.2L849.2 407.6L850 406L850.8 404.4L851.4 402.7L852 400.9L852.5 399.1L852.9 397.2L853.3 395.2L853.7 393.3L854.1 391.3L854.6 389.4L855.1 387.4L855.8 385.3L856.4 383.1L857 380.8L857.4 378.3L857.6 375.7L857.3 373L856.7 370.3L855.7 367.6L854.3 365L852.5 362.6L850.6 360.3L848.5 358.3L846.4 356.4L844.4 354.7L842.4 353L840.6 351.4L838.8 349.7L837.2 348.1L835.5 346.4L833.8 344.8L832.2 343.2L830.5 341.7L828.7 340.3L827 339L825.2 337.7L823.4 336.6L821.6 335.4L819.7 334.1L817.8 332.8L815.9 331.3L813.9 329.7L811.8 328L809.6 326.4L807.3 325L805 323.9L802.8 323.2L800.6 323L798.7 323.4L797 324.3L795.5 325.7L794.3 327.5L793.3 329.5L792.4 331.5L791.7 333.6L790.9 335.5L790.2 337.4L789.4 339L788.6 340.7L787.8 342.2L787 343.8L786.2 345.4L785.5 347.1L785 348.9L784.5 350.8L784.1 352.7L783.7 354.6L783.3 356.6L782.9 358.5L782.4 360.5L781.8 362.5L781.2 364.6L780.6 366.7L780 369.1L779.6 371.5L779.4 374.1L779.6 376.8L780.3 379.6L781.3 382.3L782.7 384.9L784.4 387.3L786.4 389.5L788.5 391.6L790.6 393.4L792.6 395.2L794.6 396.8L796.4 398.5L798.1 400.1L799.8 401.8L801.5 403.4L803.1 405.1L804.8 406.6L806.5 408.1L808.3 409.6L810 410.9L811.8 412.1L813.6 413.3L815.4 414.5L817.3 415.7L819.1 417.1L821.1 418.6L823.1 420.2L825.2 421.8L827.4 423.4L829.7 424.8L832 426L834.2 426.7L836.3 426.8L838.3 426.5L840 425.5L841.5 424.1L842.7 422.4Z" fill="#fff" stroke="#111" stroke-width="1.4" stroke-linejoin="round"/>
<ellipse cx="818.5" cy="374.9" rx="29" ry="44" transform="rotate(-29 818.5 374.9)" fill="none" stroke="#111" stroke-width="1"/>
<ellipse cx="835.4" cy="422.2" rx="2.6" ry="3.2" fill="#fff" stroke="#111" stroke-width="1"/>
<ellipse cx="853" cy="369.9" rx="2.6" ry="3.2" fill="#fff" stroke="#111" stroke-width="1"/>
<ellipse cx="801.6" cy="327.7" rx="2.6" ry="3.2" fill="#fff" stroke="#111" stroke-width="1"/>
<ellipse cx="818.5" cy="374.9" rx="27.7" ry="42" transform="rotate(-29 818.5 374.9)" fill="#fff" stroke="#111" stroke-width="1.2"/>
<path d="M826.6 418.4L838.9 411.7L798.1 338.2L785.9 345Z" fill="#fff" stroke="none"/>
<path d="M826.6 418.4L838.9 411.7M785.9 345L798.1 338.2" stroke="#111" stroke-width="1.2" fill="none"/>
<ellipse cx="806.2" cy="381.7" rx="27.7" ry="42" transform="rotate(-29 806.2 381.7)" fill="#fff" stroke="#111" stroke-width="1.2"/>
<ellipse cx="816.7" cy="375.9" rx="27.7" ry="42" transform="rotate(-29 816.7 375.9)" fill="none" stroke="#111" stroke-width="1"/>
<ellipse cx="806.2" cy="381.7" rx="26.4" ry="40" transform="rotate(-29 806.2 381.7)" fill="#fff" stroke="#111" stroke-width="1.2"/>
<path d="M820.4 419.6L825.6 416.7L786.9 346.7L781.6 349.6Z" fill="#fff" stroke="none"/>
<path d="M820.4 419.6L825.6 416.7M781.6 349.6L786.9 346.7" stroke="#111" stroke-width="1.2" fill="none"/>
<ellipse cx="801" cy="384.6" rx="26.4" ry="40" transform="rotate(-29 801 384.6)" fill="#fff" stroke="#111" stroke-width="1.2"/>
<ellipse cx="804.5" cy="382.7" rx="26.4" ry="40" transform="rotate(-29 804.5 382.7)" fill="none" stroke="#111" stroke-width="1"/>
<ellipse cx="801" cy="384.6" rx="26.4" ry="40" transform="rotate(-29 801 384.6)" fill="#fff" stroke="#111" stroke-width="1.2"/>
<path d="M813.4 423.5L820.4 419.6L781.6 349.6L774.6 353.5Z" fill="#fff" stroke="none"/>
<path d="M813.4 423.5L820.4 419.6M774.6 353.5L781.6 349.6" stroke="#111" stroke-width="1.2" fill="none"/>
<ellipse cx="794" cy="388.5" rx="26.4" ry="40" transform="rotate(-29 794 388.5)" fill="#fff" stroke="#111" stroke-width="1.2"/>
<ellipse cx="794" cy="388.5" rx="21.1" ry="32" transform="rotate(-29 794 388.5)" fill="#fff" stroke="#111" stroke-width="1.2"/>
<ellipse cx="794" cy="388.5" rx="20.1" ry="30.5" transform="rotate(-29 794 388.5)" fill="#fff" stroke="#111" stroke-width="1"/>
<ellipse cx="804.5" cy="382.7" rx="17.2" ry="26" transform="rotate(-29 804.5 382.7)" fill="none" stroke="#111" stroke-width="1"/>
<ellipse cx="808" cy="380.7" rx="15.8" ry="24" transform="rotate(-29 808 380.7)" fill="none" stroke="#111" stroke-width="1"/>
<path d="M720.1 338.4L653.8 372.9L743.6 497.2L810 460L720.1 338.4" fill="none" stroke="#111" stroke-width="1.1" stroke-dasharray="16 3 4 3"/>
<path d="M758.8 464.5L759.8 464L760.7 463.3L761.6 462.7L762.5 461.9L763.3 461.2L764.1 460.4L764.9 459.5L765.6 458.6L766.3 457.6L767 456.7L767.6 455.6L768.2 454.5L768.7 453.4L769.2 452.3L769.7 451.1L770.1 449.8L770.4 448.6L770.8 447.3L771.1 446L771.3 444.6L771.5 443.2L771.7 441.8L771.8 440.4L771.8 439L771.9 437.5L771.8 436L771.8 434.5L771.7 433L771.5 431.4L771.3 429.9L771.1 428.3L770.8 426.7L770.4 425.2L770.1 423.6L770.6 422L771.3 420.3L771.5 418.6L771.2 416.9L770.3 415.2L768.9 413.7L767.2 412.4L765.6 411.1L764.9 409.6L764.1 408.1L763.3 406.6L762.5 405.1L761.6 403.7L760.7 402.2L759.8 400.8L758.8 399.5L757.8 398.1L756.8 396.8L755.7 395.5L754.7 394.2L753.6 393L752.4 391.8L751.3 390.7L750.2 389.6L749 388.5L747.8 387.5L746.6 386.5L745.4 385.5L744.1 384.6L742.9 383.8L741.6 382.9L740.4 382.2L739.1 381.5L737.8 380.8L736.6 380.2L735.3 379.6L734 379.1L732.7 378.7L731.5 378.3L730.2 377.9L728.9 377.6L727.7 377.4L726.4 377.2L725.2 377L724 377L722.4 375.7L717.5 363.5L716 363.6L714.5 363.8L713 364L711.5 364.3L715.4 376.7L714.8 378.3L713.8 378.7L712.8 379.2L711.8 379.7L710.8 380.2L709.9 380.9L709 381.5L708.1 382.3L707.3 383L706.5 383.8L705.7 384.7L705 385.6L704.3 386.6L703.6 387.5L703 388.6L702.4 389.7L701.9 390.8L701.4 391.9L700.9 393.1L700.5 394.4L700.2 395.6L699.8 396.9L699.5 398.2L699.3 399.6L699.1 401L698.9 402.4L698.8 403.8L698.8 405.2L698.7 406.7L698.8 408.2L698.8 409.7L698.9 411.2L699.1 412.8L699.3 414.3L699.5 415.9L699.8 417.5L700.2 419L700.5 420.6L700 422.2L699.3 423.9L699.1 425.6L699.4 427.3L700.3 429L701.7 430.5L703.4 431.8L705 433.1L705.7 434.6L706.5 436.1L707.3 437.6L708.1 439.1L709 440.5L709.9 442L710.8 443.4L711.8 444.7L712.8 446.1L713.8 447.4L714.9 448.7L715.9 450L717 451.2L718.2 452.4L719.3 453.5L720.4 454.6L721.6 455.7L722.8 456.7L724 457.7L725.2 458.7L726.5 459.6L727.7 460.4L729 461.3L730.2 462L731.5 462.7L732.8 463.4L734 464L735.3 464.6L736.6 465.1L737.9 465.5L739.1 465.9L740.4 466.3L741.7 466.6L742.9 466.8L744.2 467L745.4 467.2L746.6 467.2L748.2 468.5L753.1 480.7L754.6 480.6L756.1 480.4L757.6 480.2L759.1 479.9L755.2 467.5L755.8 465.9L756.8 465.5L757.8 465Z" fill="none" stroke="#111" stroke-width="1.2" stroke-linejoin="round"/>
<ellipse cx="735.3" cy="422.1" rx="30" ry="45.5" transform="rotate(-29 735.3 422.1)" fill="none" stroke="#111" stroke-width="1.2"/>
<ellipse cx="751.8" cy="468.4" rx="2.3" ry="2.8" fill="#fff" stroke="#111" stroke-width="1.2"/>
<ellipse cx="769.2" cy="417.2" rx="2.3" ry="2.8" fill="#fff" stroke="#111" stroke-width="1.2"/>
<ellipse cx="718.8" cy="375.8" rx="2.3" ry="2.8" fill="#fff" stroke="#111" stroke-width="1.2"/>
<ellipse cx="701.4" cy="427" rx="2.3" ry="2.8" fill="#fff" stroke="#111" stroke-width="1.2"/>
<ellipse cx="676" cy="452" rx="27.4" ry="41.5" transform="rotate(-29 676 452)" fill="none" stroke="#111" stroke-width="1.2"/>
<ellipse cx="676" cy="452" rx="26.4" ry="40" transform="rotate(-29 676 452)" fill="none" stroke="#111" stroke-width="1.2"/>
<ellipse cx="631.6" cy="477.7" rx="17.8" ry="27" transform="rotate(-29 631.6 477.7)" fill="#fff" stroke="#111" stroke-width="1.2"/>
<path d="M635.1 506.6L644.7 501.3L618.5 454.1L608.9 459.4Z" fill="#fff" stroke="none"/>
<path d="M635.1 506.6L644.7 501.3M608.9 459.4L618.5 454.1" stroke="#111" stroke-width="1.2" fill="none"/>
<ellipse cx="622" cy="483" rx="17.8" ry="27" transform="rotate(-29 622 483)" fill="#fff" stroke="#111" stroke-width="1.2"/>
<ellipse cx="622" cy="483" rx="16.8" ry="25.4" transform="rotate(-29 622 483)" fill="none" stroke="#111" stroke-width="1"/>
<ellipse cx="622" cy="483" rx="15" ry="22.7" transform="rotate(-29 622 483)" fill="#fff" stroke="#111" stroke-width="1.2"/>
<ellipse cx="622" cy="483" rx="14" ry="21.2" transform="rotate(-29 622 483)" fill="none" stroke="#111" stroke-width="1"/>
<ellipse cx="619.4" cy="465.1" rx="2.2" ry="2.5" fill="#fff" stroke="#111" stroke-width="1"/>
<ellipse cx="624.6" cy="500.9" rx="2.2" ry="2.5" fill="#fff" stroke="#111" stroke-width="1"/>
<ellipse cx="622" cy="483" rx="10.9" ry="16.5" transform="rotate(-29 622 483)" fill="#fff" stroke="#111" stroke-width="1.2"/>
<clipPath id="cp2"><ellipse cx="622" cy="483" rx="7.6" ry="11.5" transform="rotate(-29 622 483)"/></clipPath>
<ellipse cx="622" cy="483" rx="7.6" ry="11.5" transform="rotate(-29 622 483)" fill="#fff" stroke="#111" stroke-width="1.2"/>
<g clip-path="url(#cp2)"><ellipse cx="628.7" cy="479.3" rx="7.6" ry="11.5" transform="rotate(-29 628.7 479.3)" fill="none" stroke="#111" stroke-width="1.1"/></g>
<ellipse cx="597.2" cy="495" rx="18.5" ry="28" transform="rotate(-29 597.2 495)" fill="#fff" stroke="#111" stroke-width="1.4"/>
<path d="M606.4 521.9L610.7 519.5L583.6 470.5L579.2 472.9Z" fill="#fff" stroke="none"/>
<path d="M606.4 521.9L610.7 519.5M579.2 472.9L583.6 470.5" stroke="#111" stroke-width="1.4" fill="none"/>
<ellipse cx="592.8" cy="497.4" rx="18.5" ry="28" transform="rotate(-29 592.8 497.4)" fill="#fff" stroke="#111" stroke-width="1.4"/>
<path d="M609.2 520.9L611.3 519.5L613 517.7L614.5 515.5L615.6 513L616.4 510.2L616.8 507.1L616.9 503.9L616.6 500.5L615.9 497.1L614.9 493.6L613.5 490.2L611.9 486.8L609.9 483.7L607.7 480.7L605.3 478L602.8 475.6L600.1 473.5L597.3 471.9L594.5 470.6L591.7 469.8L589 469.4L586.3 469.5L583.9 470L581.6 471" fill="none" stroke="#111" stroke-width="3.2"/>
<ellipse cx="592.8" cy="497.4" rx="15.2" ry="23" transform="rotate(-29 592.8 497.4)" fill="#fff" stroke="#111" stroke-width="1.2"/>
<ellipse cx="594.1" cy="496.7" rx="14.2" ry="21.5" transform="rotate(-29 594.1 496.7)" fill="none" stroke="#111" stroke-width="1"/>
<rect x="605.3" y="511" width="3" height="3.5" fill="#fff" stroke="#111" stroke-width="0.9"/>
<rect x="599.4" y="482.8" width="3" height="3.5" fill="#fff" stroke="#111" stroke-width="0.9"/>
<rect x="577.3" y="480.3" width="3" height="3.5" fill="#fff" stroke="#111" stroke-width="0.9"/>
<rect x="583.2" y="508.5" width="3" height="3.5" fill="#fff" stroke="#111" stroke-width="0.9"/>
<ellipse cx="553.6" cy="518.7" rx="20.1" ry="30.5" transform="rotate(-29 553.6 518.7)" fill="#fff" stroke="#111" stroke-width="1.2"/>
<path d="M558.8 550.7L568.4 545.3L538.8 492L529.2 497.3Z" fill="#fff" stroke="none"/>
<path d="M558.8 550.7L568.4 545.3M529.2 497.3L538.8 492" stroke="#111" stroke-width="1.2" fill="none"/>
<ellipse cx="544" cy="524" rx="20.1" ry="30.5" transform="rotate(-29 544 524)" fill="#fff" stroke="#111" stroke-width="1.2"/>
<ellipse cx="544" cy="524" rx="19.1" ry="28.9" transform="rotate(-29 544 524)" fill="none" stroke="#111" stroke-width="1"/>
<ellipse cx="544" cy="524" rx="17.2" ry="26" transform="rotate(-29 544 524)" fill="#fff" stroke="#111" stroke-width="1.2"/>
<ellipse cx="544" cy="524" rx="16.2" ry="24.5" transform="rotate(-29 544 524)" fill="none" stroke="#111" stroke-width="1"/>
<ellipse cx="541" cy="503.1" rx="2.2" ry="2.6" fill="#fff" stroke="#111" stroke-width="1"/>
<ellipse cx="547" cy="544.9" rx="2.2" ry="2.6" fill="#fff" stroke="#111" stroke-width="1"/>
<ellipse cx="544" cy="524" rx="12.9" ry="19.6" transform="rotate(-29 544 524)" fill="#fff" stroke="#111" stroke-width="1.2"/>
<clipPath id="cp3"><ellipse cx="544" cy="524" rx="9.6" ry="14.5" transform="rotate(-29 544 524)"/></clipPath>
<ellipse cx="544" cy="524" rx="9.6" ry="14.5" transform="rotate(-29 544 524)" fill="#fff" stroke="#111" stroke-width="1.2"/>
<g clip-path="url(#cp3)"><ellipse cx="550.7" cy="520.3" rx="9.6" ry="14.5" transform="rotate(-29 550.7 520.3)" fill="none" stroke="#111" stroke-width="1.1"/></g>
<ellipse cx="452.7" cy="327.2" rx="15.2" ry="23" transform="rotate(-29 452.7 327.2)" fill="#fff" stroke="#111" stroke-width="1.2"/>
<path d="M455.2 352.1L463.9 347.3L441.6 307L432.8 311.9Z" fill="#fff" stroke="none"/>
<path d="M455.2 352.1L463.9 347.3M432.8 311.9L441.6 307" stroke="#111" stroke-width="1.2" fill="none"/>
<ellipse cx="444" cy="332" rx="15.2" ry="23" transform="rotate(-29 444 332)" fill="#fff" stroke="#111" stroke-width="1.2"/>
<ellipse cx="444" cy="332" rx="14.1" ry="21.4" transform="rotate(-29 444 332)" fill="none" stroke="#111" stroke-width="1"/>
<ellipse cx="444" cy="332" rx="13.1" ry="19.9" transform="rotate(-29 444 332)" fill="#fff" stroke="#111" stroke-width="1.2"/>
<ellipse cx="444" cy="332" rx="12.2" ry="18.4" transform="rotate(-29 444 332)" fill="none" stroke="#111" stroke-width="1"/>
<ellipse cx="441.7" cy="315.7" rx="1.5" ry="1.8" fill="#fff" stroke="#111" stroke-width="1"/>
<ellipse cx="446.3" cy="348.3" rx="1.5" ry="1.8" fill="#fff" stroke="#111" stroke-width="1"/>
<ellipse cx="444" cy="332" rx="10.2" ry="15.5" transform="rotate(-29 444 332)" fill="#fff" stroke="#111" stroke-width="1.2"/>
<clipPath id="cp4"><ellipse cx="444" cy="332" rx="7.9" ry="12" transform="rotate(-29 444 332)"/></clipPath>
<ellipse cx="444" cy="332" rx="7.9" ry="12" transform="rotate(-29 444 332)" fill="#fff" stroke="#111" stroke-width="1.2"/>
<g clip-path="url(#cp4)"><ellipse cx="450.1" cy="328.6" rx="7.9" ry="12" transform="rotate(-29 450.1 328.6)" fill="none" stroke="#111" stroke-width="1.1"/></g>
<ellipse cx="413.6" cy="349.3" rx="16.5" ry="25" transform="rotate(-29 413.6 349.3)" fill="#fff" stroke="#111" stroke-width="1.5"/>
<path d="M423.1 372.7L425.7 371.2L401.5 327.5L398.9 328.9Z" fill="#fff" stroke="none"/>
<path d="M423.1 372.7L425.7 371.2M398.9 328.9L401.5 327.5" stroke="#111" stroke-width="1.5" fill="none"/>
<ellipse cx="411" cy="350.8" rx="16.5" ry="25" transform="rotate(-29 411 350.8)" fill="#fff" stroke="#111" stroke-width="1.5"/>
<path d="M425.1 372.1L426.9 370.9L428.5 369.3L429.8 367.3L430.8 365.1L431.5 362.6L431.9 359.8L432 356.9L431.7 353.9L431.1 350.8L430.2 347.7L429 344.7L427.5 341.7L425.7 338.8L423.8 336.2L421.6 333.8L419.3 331.6L416.9 329.8L414.4 328.3L411.9 327.2L409.4 326.4L407 326.1L404.6 326.2L402.4 326.7L400.4 327.5" fill="none" stroke="#111" stroke-width="3.2"/>
<ellipse cx="411" cy="350.8" rx="13.2" ry="20" transform="rotate(-29 411 350.8)" fill="#fff" stroke="#111" stroke-width="1.2"/>
<ellipse cx="425.2" cy="362.7" rx="1.6" ry="2" fill="#fff" stroke="#111" stroke-width="0.9"/>
<ellipse cx="416.2" cy="336.5" rx="1.6" ry="2" fill="#fff" stroke="#111" stroke-width="0.9"/>
<ellipse cx="396.8" cy="338.9" rx="1.6" ry="2" fill="#fff" stroke="#111" stroke-width="0.9"/>
<ellipse cx="405.8" cy="365.1" rx="1.6" ry="2" fill="#fff" stroke="#111" stroke-width="0.9"/>
<ellipse cx="375.1" cy="371.6" rx="16.5" ry="25" transform="rotate(-29 375.1 371.6)" fill="#fff" stroke="#111" stroke-width="1.2"/>
<path d="M381.1 396.9L387.2 393.5L363 349.7L356.9 353.1Z" fill="#fff" stroke="none"/>
<path d="M381.1 396.9L387.2 393.5M356.9 353.1L363 349.7" stroke="#111" stroke-width="1.2" fill="none"/>
<ellipse cx="369" cy="375" rx="16.5" ry="25" transform="rotate(-29 369 375)" fill="#fff" stroke="#111" stroke-width="1.2"/>
<ellipse cx="375.1" cy="371.6" rx="16.5" ry="25" transform="rotate(-29 375.1 371.6)" fill="none" stroke="#111" stroke-width="2.2"/>
<ellipse cx="369" cy="375" rx="14.9" ry="22.5" transform="rotate(-29 369 375)" fill="none" stroke="#111" stroke-width="1.1"/>
<ellipse cx="369" cy="375" rx="12.5" ry="19" transform="rotate(-29 369 375)" fill="#fff" stroke="#111" stroke-width="1.2"/>
<ellipse cx="369" cy="375" rx="10.9" ry="16.5" transform="rotate(-29 369 375)" fill="#fff" stroke="#111" stroke-width="1.1"/>
<clipPath id="cp5"><ellipse cx="369" cy="375" rx="8.6" ry="13" transform="rotate(-29 369 375)"/></clipPath>
<ellipse cx="369" cy="375" rx="8.6" ry="13" transform="rotate(-29 369 375)" fill="#fff" stroke="#111" stroke-width="1.4"/>
<g clip-path="url(#cp5)"><ellipse cx="373.4" cy="372.6" rx="8.6" ry="13" transform="rotate(-29 373.4 372.6)" fill="none" stroke="#111" stroke-width="1.2"/></g>
<ellipse cx="345.2" cy="386.6" rx="8.6" ry="13" transform="rotate(-29 345.2 386.6)" fill="none" stroke="#111" stroke-width="1.2"/>
<ellipse cx="345.2" cy="386.6" rx="7.6" ry="11.5" transform="rotate(-29 345.2 386.6)" fill="none" stroke="#111" stroke-width="1.2"/>
<ellipse cx="324.6" cy="399.2" rx="10.6" ry="16" transform="rotate(-29 324.6 399.2)" fill="#fff" stroke="#111" stroke-width="1.2"/>
<path d="M322.8 418.6L332.4 413.2L316.9 385.2L307.2 390.6Z" fill="#fff" stroke="none"/>
<path d="M322.8 418.6L332.4 413.2M307.2 390.6L316.9 385.2" stroke="#111" stroke-width="1.2" fill="none"/>
<ellipse cx="315" cy="404.6" rx="10.6" ry="16" transform="rotate(-29 315 404.6)" fill="#fff" stroke="#111" stroke-width="1.2"/>
<path d="M330.9 431.1L330.9 429.1L330.8 427.1L330.6 425.2L330.5 423.5L330.4 422L330.4 420.7L330.5 419.7L330.8 418.8L331.2 418.1L331.7 417.4L332.4 416.9L333.3 416.5L334.4 416L335.6 415.6L336.9 415.1L338.3 414.4L339.6 413.6L340.8 412.5L341.8 411.3L342.6 409.8L343 408.2L343.2 406.5L342.9 404.6L342.4 402.8L341.5 401L340.3 399.3L338.8 397.7L337.2 396.3L335.5 395.2L333.7 394.2L332 393.4L330.3 392.8L328.7 392.3L327.3 391.9L326 391.5L324.9 391L324 390.5L323.1 389.8L322.4 389L321.6 388.1L320.9 387L320.2 385.6L319.5 384.1L318.6 382.3L317.7 380.4L316.6 378.4L315.4 376.3L314.1 374.4L312.7 372.6L311.2 371.1L309.6 369.9L308 369.1L306.5 368.7L305.2 368.8L303.9 369.3L302.9 370.3L302.1 371.6L301.5 373.2L301.1 375.1L300.9 377L300.9 379.1L301 381.1L301.1 383L301.3 384.7L301.4 386.2L301.4 387.4L301.2 388.5L301 389.4L300.6 390.1L300 390.7L299.3 391.2L298.4 391.7L297.3 392.1L296.1 392.5L294.8 393.1L293.5 393.7L292.2 394.6L291 395.6L289.9 396.9L289.2 398.3L288.7 399.9L288.6 401.7L288.8 403.5L289.4 405.4L290.3 407.2L291.5 408.9L292.9 410.4L294.5 411.8L296.3 413L298 414L299.8 414.7L301.5 415.3L303 415.8L304.5 416.3L305.7 416.7L306.8 417.1L307.8 417.7L308.6 418.3L309.4 419.1L310.1 420L310.8 421.2L311.5 422.5L312.3 424.1L313.1 425.8L314 427.8L315.1 429.8L316.3 431.8L317.6 433.8L319.1 435.5L320.6 437.1L322.2 438.3L323.7 439.1L325.2 439.4L326.6 439.4L327.8 438.8L328.9 437.9L329.7 436.6L330.3 434.9L330.7 433.1Z" fill="#fff" stroke="#111" stroke-width="1.2" stroke-linejoin="round"/>
<path d="M326.5 433.5L326.5 431.5L326.4 429.5L326.3 427.6L326.1 425.9L326 424.4L326 423.1L326.1 422.1L326.4 421.2L326.8 420.5L327.3 419.8L328 419.3L328.9 418.9L330 418.5L331.2 418L332.6 417.5L333.9 416.8L335.2 416L336.4 415L337.4 413.7L338.2 412.3L338.7 410.6L338.8 408.9L338.6 407.1L338 405.2L337.1 403.4L335.9 401.7L334.5 400.1L332.8 398.8L331.1 397.6L329.3 396.6L327.6 395.8L325.9 395.2L324.3 394.7L322.9 394.3L321.7 393.9L320.6 393.5L319.6 392.9L318.8 392.2L318 391.5L317.3 390.5L316.5 389.4L315.8 388.1L315.1 386.5L314.3 384.7L313.3 382.8L312.3 380.8L311.1 378.8L309.7 376.8L308.3 375L306.8 373.5L305.2 372.3L303.7 371.5L302.2 371.1L300.8 371.2L299.6 371.7L298.5 372.7L297.7 374L297.1 375.6L296.7 377.5L296.5 379.5L296.5 381.5L296.6 383.5L296.7 385.4L296.9 387.1L297 388.6L297 389.9L296.9 390.9L296.6 391.8L296.2 392.5L295.7 393.2L295 393.7L294.1 394.1L293 394.5L291.8 395L290.4 395.5L289.1 396.2L287.8 397L286.6 398L285.6 399.3L284.8 400.7L284.3 402.4L284.2 404.1L284.4 405.9L285 407.8L285.9 409.6L287.1 411.3L288.5 412.9L290.2 414.2L291.9 415.4L293.7 416.4L295.4 417.2L297.1 417.8L298.7 418.3L300.1 418.7L301.3 419.1L302.4 419.5L303.4 420.1L304.2 420.8L305 421.5L305.7 422.5L306.5 423.6L307.2 424.9L307.9 426.5L308.7 428.3L309.7 430.2L310.7 432.2L311.9 434.2L313.3 436.2L314.7 438L316.2 439.5L317.8 440.7L319.3 441.5L320.8 441.9L322.2 441.8L323.4 441.3L324.5 440.3L325.3 439L325.9 437.4L326.3 435.5Z" fill="#fff" stroke="#111" stroke-width="1.5" stroke-linejoin="round"/>
<ellipse cx="319.4" cy="434.9" rx="2.7" ry="3.8" transform="rotate(-29 319.4 434.9)" fill="#111"/>
<ellipse cx="333.1" cy="406.5" rx="2.7" ry="3.8" transform="rotate(-29 333.1 406.5)" fill="#111"/>
<ellipse cx="303.6" cy="378.1" rx="2.7" ry="3.8" transform="rotate(-29 303.6 378.1)" fill="#111"/>
<ellipse cx="289.9" cy="406.5" rx="2.7" ry="3.8" transform="rotate(-29 289.9 406.5)" fill="#111"/>
<ellipse cx="311.5" cy="406.5" rx="13.9" ry="21" transform="rotate(-29 311.5 406.5)" fill="#fff" stroke="#111" stroke-width="1.5"/>
<ellipse cx="311.5" cy="406.5" rx="12.2" ry="18.5" transform="rotate(-29 311.5 406.5)" fill="#fff" stroke="#111" stroke-width="2"/>
<ellipse cx="313.2" cy="405.5" rx="9.2" ry="14" transform="rotate(-29 313.2 405.5)" fill="#fff" stroke="#111" stroke-width="1.2"/>
<ellipse cx="315" cy="404.6" rx="7.6" ry="11.5" transform="rotate(-29 315 404.6)" fill="#555" stroke="#111" stroke-width="1"/>
<path d="M321.6 413.2L318.8 414.7" fill="none" stroke="#eee" stroke-width="1.1"/>
<path d="M323.1 409.9L315.2 414.3" fill="none" stroke="#eee" stroke-width="1.1"/>
<path d="M323 405.6L311.6 411.9" fill="none" stroke="#eee" stroke-width="1.1"/>
<path d="M321.3 401L308.6 408.1" fill="none" stroke="#eee" stroke-width="1.1"/>
<path d="M318.4 397.2L307 403.6" fill="none" stroke="#eee" stroke-width="1.1"/>
<path d="M314.8 394.8L306.9 399.2" fill="none" stroke="#eee" stroke-width="1.1"/>
<path d="M311.2 394.4L308.4 396" fill="none" stroke="#eee" stroke-width="1.1"/>
<ellipse cx="279.8" cy="423.3" rx="8.6" ry="13" transform="rotate(-29 279.8 423.3)" fill="#fff" stroke="#111" stroke-width="1.2"/>
<path d="M283.9 435.9L286.1 434.7L273.5 411.9L271.3 413.1Z" fill="#fff" stroke="none"/>
<path d="M283.9 435.9L286.1 434.7M271.3 413.1L273.5 411.9" stroke="#111" stroke-width="1.2" fill="none"/>
<ellipse cx="277.6" cy="424.5" rx="8.6" ry="13" transform="rotate(-29 277.6 424.5)" fill="#fff" stroke="#111" stroke-width="1.2"/>
<ellipse cx="277.6" cy="424.5" rx="3" ry="4.5" transform="rotate(-29 277.6 424.5)" fill="#fff" stroke="#111" stroke-width="1.4"/>
<ellipse cx="278.3" cy="424.1" rx="2.1" ry="3.2" transform="rotate(-29 278.3 424.1)" fill="none" stroke="#111" stroke-width="1"/>
<ellipse cx="266" cy="429.3" rx="2.8" ry="4.3" transform="rotate(-29 266 429.3)" fill="#fff" stroke="#111" stroke-width="1.2"/>
<path d="M254.9 440.4L268.1 433.1L263.9 425.6L250.8 432.8Z" fill="#fff" stroke="none"/>
<path d="M254.9 440.4L268.1 433.1M250.8 432.8L263.9 425.6" stroke="#111" stroke-width="1.2" fill="none"/>
<ellipse cx="252.8" cy="436.6" rx="2.8" ry="4.3" transform="rotate(-29 252.8 436.6)" fill="#fff" stroke="#111" stroke-width="1.2"/>
<ellipse cx="266" cy="429.3" rx="1.8" ry="2.8" transform="rotate(-29 266 429.3)" fill="none" stroke="#111" stroke-width="1"/>
<ellipse cx="253" cy="436.5" rx="5.8" ry="8.8" transform="rotate(-29 253 436.5)" fill="#fff" stroke="#111" stroke-width="1.2"/>
<path d="M255.8 445L257.3 444.2L248.8 428.8L247.3 429.6Z" fill="#fff" stroke="none"/>
<path d="M255.8 445L257.3 444.2M247.3 429.6L248.8 428.8" stroke="#111" stroke-width="1.2" fill="none"/>
<ellipse cx="251.5" cy="437.3" rx="5.8" ry="8.8" transform="rotate(-29 251.5 437.3)" fill="#fff" stroke="#111" stroke-width="1.2"/>
<path d="M242.5 435.2L246.7 432.9L250.6 430.7L255.7 435L256.6 441.6L248.5 446.1L243.4 441.8Z" fill="#fff" stroke="#111" stroke-width="1.2" stroke-linejoin="round"/>
<path d="M252.7 443.8L256.6 441.6" fill="none" stroke="#111" stroke-width="1.1"/>
<path d="M251.8 437.2L255.7 435" fill="none" stroke="#111" stroke-width="1.1"/>
<path d="M246.7 432.9L250.6 430.7" fill="none" stroke="#111" stroke-width="1.1"/>
<path d="M252.7 443.8L251.8 437.2L246.7 432.9L242.5 435.2L243.4 441.8L248.5 446.1Z" fill="#fff" stroke="#111" stroke-width="1.2" stroke-linejoin="round"/>
<ellipse cx="546" cy="132.4" rx="8.6" ry="13" transform="rotate(29 546 132.4)" fill="#fff" stroke="#111" stroke-width="1.2"/>
<path d="M547.6 148.2L539.7 143.8L552.3 121.1L560.2 125.4Z" fill="#fff" stroke="none"/>
<path d="M547.6 148.2L539.7 143.8M560.2 125.4L552.3 121.1" stroke="#111" stroke-width="1.2" fill="none"/>
<ellipse cx="553.9" cy="136.8" rx="8.6" ry="13" transform="rotate(29 553.9 136.8)" fill="#fff" stroke="#111" stroke-width="1.2"/>
<ellipse cx="546.9" cy="132.9" rx="8.6" ry="13" transform="rotate(29 546.9 132.9)" fill="none" stroke="#111" stroke-width="1.5"/>
<ellipse cx="548.6" cy="133.9" rx="8.6" ry="13" transform="rotate(29 548.6 133.9)" fill="none" stroke="#111" stroke-width="1.5"/>
<ellipse cx="550.4" cy="134.9" rx="8.6" ry="13" transform="rotate(29 550.4 134.9)" fill="none" stroke="#111" stroke-width="1.5"/>
<ellipse cx="552.1" cy="135.8" rx="8.6" ry="13" transform="rotate(29 552.1 135.8)" fill="none" stroke="#111" stroke-width="1.5"/>
<ellipse cx="553.9" cy="136.8" rx="8.6" ry="13" transform="rotate(29 553.9 136.8)" fill="none" stroke="#111" stroke-width="1.5"/>
<path d="M547.6 148.2L539.7 143.8L552.3 121.1L560.2 125.4Z" fill="none" stroke="none"/>
<path d="M547.6 148.2L539.7 143.8M560.2 125.4L552.3 121.1" stroke="#111" stroke-width="1.2" fill="none"/>
<ellipse cx="553.9" cy="136.8" rx="9.9" ry="15" transform="rotate(29 553.9 136.8)" fill="#fff" stroke="#111" stroke-width="1.2"/>
<path d="M549.2 151.4L546.6 149.9L561.1 123.7L563.8 125.1Z" fill="#fff" stroke="none"/>
<path d="M549.2 151.4L546.6 149.9M563.8 125.1L561.1 123.7" stroke="#111" stroke-width="1.2" fill="none"/>
<ellipse cx="556.5" cy="138.2" rx="9.9" ry="15" transform="rotate(29 556.5 138.2)" fill="#fff" stroke="#111" stroke-width="1.2"/>
<ellipse cx="556.5" cy="138.2" rx="6.6" ry="10" transform="rotate(29 556.5 138.2)" fill="#fff" stroke="#111" stroke-width="1.2"/>
<ellipse cx="557.8" cy="139" rx="5.6" ry="8.5" transform="rotate(29 557.8 139)" fill="#1a1a1a" stroke="#111" stroke-width="1.2"/>
<path d="M584.6 186.9L583.4 190.3L584.8 190.9L586.9 187.9L588.2 188.3L587.6 191.6L589.2 191.8L590.8 188.5L592.3 188.5L592.3 191.6L594 191.3L595.1 188L596.6 187.5L597.2 190.4L598.9 189.7L599.5 186.3L601.1 185.5L602.2 187.9L603.9 186.8L603.9 183.6L605.3 182.4L606.9 184.3L608.5 182.9L608 180L609.3 178.5L611.3 179.8L612.7 178L611.6 175.6L612.8 173.9L615.1 174.5L616.3 172.5L614.7 170.6L615.6 168.8L618.2 168.7L619.1 166.6L617.1 165.3L617.7 163.4L620.4 162.6L621 160.4L618.6 159.8L618.9 158L621.6 156.5L621.8 154.4L619.2 154.5L619.2 152.7L621.8 150.6L621.6 148.7L618.9 149.5L618.6 147.9L621 145.3L620.4 143.6L617.7 145.1L617.1 143.7L619.1 140.7L618.3 139.3L615.7 141.4L614.8 140.3L616.4 137.1L615.2 136.1L612.9 138.7L611.7 137.9L612.8 134.6L611.4 134L609.4 137L608 136.6L608.6 133.3L607 133.1L605.4 136.4L604 136.4L604 133.2L602.3 133.5L601.1 136.9L599.6 137.4L599.1 134.5L597.3 135.2L596.7 138.6L595.2 139.4L594.1 137L592.4 138.1L592.4 141.3L590.9 142.4L589.3 140.5L587.7 142L588.3 144.9L587 146.3L584.9 145.1L583.5 146.8L584.6 149.3L583.5 151L581.1 150.4L579.9 152.4L581.5 154.3L580.6 156.1L578 156.2L577.2 158.3L579.2 159.6L578.6 161.5L575.8 162.3L575.3 164.4L577.7 165L577.3 166.9L574.6 168.4L574.4 170.5L577 170.4L577 172.2L574.4 174.2L574.6 176.2L577.3 175.4L577.6 177L575.3 179.6L575.8 181.3L578.5 179.8L579.2 181.2L577.1 184.1L578 185.5L580.6 183.5L581.5 184.5L579.9 187.8L581 188.8L583.4 186.2Z" fill="#fff" stroke="#111" stroke-width="1.2" stroke-linejoin="round"/>
<path d="M583.4 190.3L591.3 194.7" fill="none" stroke="#111" stroke-width="1.2"/>
<path d="M584.8 190.9L592.7 195.3" fill="none" stroke="#111" stroke-width="1.2"/>
<path d="M587.6 191.6L595.5 196" fill="none" stroke="#111" stroke-width="1.2"/>
<path d="M589.2 191.8L597.1 196.1" fill="none" stroke="#111" stroke-width="1.2"/>
<path d="M592.3 191.6L600.2 196" fill="none" stroke="#111" stroke-width="1.2"/>
<path d="M594 191.3L601.9 195.7" fill="none" stroke="#111" stroke-width="1.2"/>
<path d="M597.2 190.4L605.1 194.7" fill="none" stroke="#111" stroke-width="1.2"/>
<path d="M598.9 189.7L606.8 194" fill="none" stroke="#111" stroke-width="1.2"/>
<path d="M602.2 187.9L610 192.3" fill="none" stroke="#111" stroke-width="1.2"/>
<path d="M603.9 186.8L611.7 191.1" fill="none" stroke="#111" stroke-width="1.2"/>
<path d="M606.9 184.3L614.8 188.7" fill="none" stroke="#111" stroke-width="1.2"/>
<path d="M608.5 182.9L616.4 187.2" fill="none" stroke="#111" stroke-width="1.2"/>
<path d="M611.3 179.8L619.2 184.2" fill="none" stroke="#111" stroke-width="1.2"/>
<path d="M612.7 178L620.6 182.4" fill="none" stroke="#111" stroke-width="1.2"/>
<path d="M615.1 174.5L623 178.9" fill="none" stroke="#111" stroke-width="1.2"/>
<path d="M616.3 172.5L624.2 176.9" fill="none" stroke="#111" stroke-width="1.2"/>
<path d="M618.2 168.7L626.1 173" fill="none" stroke="#111" stroke-width="1.2"/>
<path d="M619.1 166.6L627 170.9" fill="none" stroke="#111" stroke-width="1.2"/>
<path d="M620.4 162.6L628.3 167" fill="none" stroke="#111" stroke-width="1.2"/>
<path d="M621 160.4L628.8 164.8" fill="none" stroke="#111" stroke-width="1.2"/>
<path d="M621.6 156.5L629.5 160.8" fill="none" stroke="#111" stroke-width="1.2"/>
<path d="M621.8 154.4L629.7 158.8" fill="none" stroke="#111" stroke-width="1.2"/>
<path d="M621.8 150.6L629.7 155" fill="none" stroke="#111" stroke-width="1.2"/>
<path d="M621.6 148.7L629.5 153.1" fill="none" stroke="#111" stroke-width="1.2"/>
<path d="M621 145.3L628.9 149.7" fill="none" stroke="#111" stroke-width="1.2"/>
<path d="M620.4 143.6L628.3 148" fill="none" stroke="#111" stroke-width="1.2"/>
<path d="M619.1 140.7L627 145.1" fill="none" stroke="#111" stroke-width="1.2"/>
<path d="M618.3 139.3L626.1 143.7" fill="none" stroke="#111" stroke-width="1.2"/>
<path d="M616.4 137.1L624.3 141.5" fill="none" stroke="#111" stroke-width="1.2"/>
<path d="M615.2 136.1L623.1 140.5" fill="none" stroke="#111" stroke-width="1.2"/>
<path d="M612.8 134.6L620.7 138.9" fill="none" stroke="#111" stroke-width="1.2"/>
<path d="M611.4 134L619.3 138.3" fill="none" stroke="#111" stroke-width="1.2"/>
<path d="M608.6 133.3L616.5 137.6" fill="none" stroke="#111" stroke-width="1.2"/>
<path d="M607 133.1L614.9 137.5" fill="none" stroke="#111" stroke-width="1.2"/>
<path d="M604 133.2L611.8 137.6" fill="none" stroke="#111" stroke-width="1.2"/>
<path d="M602.3 133.5L610.1 137.9" fill="none" stroke="#111" stroke-width="1.2"/>
<path d="M599.1 134.5L606.9 138.9" fill="none" stroke="#111" stroke-width="1.2"/>
<path d="M597.3 135.2L605.2 139.6" fill="none" stroke="#111" stroke-width="1.2"/>
<path d="M594.1 137L602 141.3" fill="none" stroke="#111" stroke-width="1.2"/>
<path d="M592.4 138.1L600.3 142.5" fill="none" stroke="#111" stroke-width="1.2"/>
<path d="M589.3 140.5L597.2 144.9" fill="none" stroke="#111" stroke-width="1.2"/>
<path d="M587.7 142L595.6 146.4" fill="none" stroke="#111" stroke-width="1.2"/>
<path d="M584.9 145.1L592.8 149.4" fill="none" stroke="#111" stroke-width="1.2"/>
<path d="M583.5 146.8L591.4 151.2" fill="none" stroke="#111" stroke-width="1.2"/>
<path d="M581.1 150.4L589 154.7" fill="none" stroke="#111" stroke-width="1.2"/>
<path d="M579.9 152.4L587.8 156.7" fill="none" stroke="#111" stroke-width="1.2"/>
<path d="M578 156.2L585.9 160.6" fill="none" stroke="#111" stroke-width="1.2"/>
<path d="M577.2 158.3L585 162.7" fill="none" stroke="#111" stroke-width="1.2"/>
<path d="M575.8 162.3L583.7 166.6" fill="none" stroke="#111" stroke-width="1.2"/>
<path d="M575.3 164.4L583.2 168.8" fill="none" stroke="#111" stroke-width="1.2"/>
<path d="M574.6 168.4L582.5 172.8" fill="none" stroke="#111" stroke-width="1.2"/>
<path d="M574.4 170.5L582.3 174.8" fill="none" stroke="#111" stroke-width="1.2"/>
<path d="M574.4 174.2L582.3 178.6" fill="none" stroke="#111" stroke-width="1.2"/>
<path d="M574.6 176.2L582.5 180.5" fill="none" stroke="#111" stroke-width="1.2"/>
<path d="M575.3 179.6L583.1 183.9" fill="none" stroke="#111" stroke-width="1.2"/>
<path d="M575.8 181.3L583.7 185.6" fill="none" stroke="#111" stroke-width="1.2"/>
<path d="M577.1 184.1L585 188.5" fill="none" stroke="#111" stroke-width="1.2"/>
<path d="M578 185.5L585.9 189.9" fill="none" stroke="#111" stroke-width="1.2"/>
<path d="M579.9 187.8L587.7 192.1" fill="none" stroke="#111" stroke-width="1.2"/>
<path d="M581 188.8L588.9 193.1" fill="none" stroke="#111" stroke-width="1.2"/>
<ellipse cx="606" cy="166.8" rx="19.5" ry="29.5" transform="rotate(29 606 166.8)" fill="#fff" stroke="#111" stroke-width="1.2"/>
<ellipse cx="606" cy="166.8" rx="19.5" ry="29.5" transform="rotate(29 606 166.8)" fill="#fff" stroke="#111" stroke-width="1.4"/>
<ellipse cx="606.4" cy="167" rx="9.9" ry="15" transform="rotate(29 606.4 167)" fill="#fff" stroke="#111" stroke-width="1.5"/>
<ellipse cx="606.4" cy="167" rx="7.3" ry="11" transform="rotate(29 606.4 167)" fill="#888" stroke="#111" stroke-width="1.2"/>
<path d="M602.6 176.7L600.3 175.4" fill="none" stroke="#222" stroke-width="1"/>
<path d="M605.6 176.5L598.8 172.8" fill="none" stroke="#222" stroke-width="1"/>
<path d="M608.6 174.9L598.6 169.4" fill="none" stroke="#222" stroke-width="1"/>
<path d="M611.4 172.1L599.5 165.5" fill="none" stroke="#222" stroke-width="1"/>
<path d="M613.4 168.5L601.5 162" fill="none" stroke="#222" stroke-width="1"/>
<path d="M614.3 164.7L604.2 159.1" fill="none" stroke="#222" stroke-width="1"/>
<path d="M614 161.3L607.3 157.5" fill="none" stroke="#222" stroke-width="1"/>
<path d="M612.6 158.7L610.2 157.4" fill="none" stroke="#222" stroke-width="1"/>
<ellipse cx="371.5" cy="590" rx="7.9" ry="12" transform="rotate(29 371.5 590)" fill="#fff" stroke="#111" stroke-width="1.2"/>
<path d="M381.4 609.2L365.7 600.5L377.3 579.5L393.1 588.2Z" fill="#fff" stroke="none"/>
<path d="M381.4 609.2L365.7 600.5M393.1 588.2L377.3 579.5" stroke="#111" stroke-width="1.2" fill="none"/>
<ellipse cx="387.2" cy="598.7" rx="7.9" ry="12" transform="rotate(29 387.2 598.7)" fill="#fff" stroke="#111" stroke-width="1.2"/>
<path d="M364.6 599.7L380.3 608.4" fill="none" stroke="#111" stroke-width="2.1"/>
<path d="M363 597.2L378.7 605.9" fill="none" stroke="#111" stroke-width="2.1"/>
<path d="M362.5 593.8L378.2 602.5" fill="none" stroke="#111" stroke-width="2.1"/>
<path d="M363 590L378.7 598.7" fill="none" stroke="#111" stroke-width="2.1"/>
<path d="M364.6 586.2L380.3 594.9" fill="none" stroke="#111" stroke-width="2.1"/>
<path d="M367 582.8L382.7 591.5" fill="none" stroke="#111" stroke-width="2.1"/>
<path d="M369.9 580.3L385.7 589" fill="none" stroke="#111" stroke-width="2.1"/>
<path d="M373.1 579L388.8 587.7" fill="none" stroke="#111" stroke-width="2.1"/>
<path d="M376 579L391.8 587.7" fill="none" stroke="#111" stroke-width="2.1"/>
<ellipse cx="372.8" cy="590.7" rx="7.9" ry="12" transform="rotate(29 372.8 590.7)" fill="none" stroke="#111" stroke-width="2.8"/>
<ellipse cx="387.2" cy="598.7" rx="6.9" ry="10.5" transform="rotate(29 387.2 598.7)" fill="#fff" stroke="#111" stroke-width="1.2"/>
<path d="M394.4 614.7L382.2 607.9L392.3 589.5L404.6 596.3Z" fill="#fff" stroke="none"/>
<path d="M394.4 614.7L382.2 607.9M404.6 596.3L392.3 589.5" stroke="#111" stroke-width="1.2" fill="none"/>
<ellipse cx="399.5" cy="605.5" rx="6.9" ry="10.5" transform="rotate(29 399.5 605.5)" fill="#fff" stroke="#111" stroke-width="1.2"/>
<ellipse cx="399.5" cy="605.5" rx="9.9" ry="15" transform="rotate(29 399.5 605.5)" fill="#fff" stroke="#111" stroke-width="1.2"/>
<path d="M396.6 621.1L392.2 618.6L406.8 592.4L411.1 594.8Z" fill="#fff" stroke="none"/>
<path d="M396.6 621.1L392.2 618.6M411.1 594.8L406.8 592.4" stroke="#111" stroke-width="1.2" fill="none"/>
<ellipse cx="403.9" cy="607.9" rx="9.9" ry="15" transform="rotate(29 403.9 607.9)" fill="#fff" stroke="#111" stroke-width="1.2"/>
<path d="M394 619.6L395.2 620.1L396.5 620.4L397.8 620.4L399.3 620.2L400.7 619.8L402.2 619.2L403.7 618.3L405.1 617.2L406.5 615.9L407.7 614.5L408.9 613L409.9 611.3L410.8 609.5L411.5 607.7L412 605.9L412.4 604.1L412.5 602.3L412.5 600.6L412.3 599L411.9 597.5L411.3 596.2L410.5 595.1L409.6 594.1L408.5 593.4" fill="none" stroke="#111" stroke-width="1.1"/>
<ellipse cx="403.9" cy="607.9" rx="8.2" ry="12.5" transform="rotate(29 403.9 607.9)" fill="#fff" stroke="#111" stroke-width="1.2"/>
<ellipse cx="403.9" cy="607.9" rx="7.9" ry="12" transform="rotate(29 403.9 607.9)" fill="#fff" stroke="#111" stroke-width="1.2"/>
<path d="M413.8 627.2L398 618.4L409.7 597.4L425.4 606.2Z" fill="#fff" stroke="none"/>
<path d="M413.8 627.2L398 618.4M425.4 606.2L409.7 597.4" stroke="#111" stroke-width="1.2" fill="none"/>
<ellipse cx="419.6" cy="616.7" rx="7.9" ry="12" transform="rotate(29 419.6 616.7)" fill="#fff" stroke="#111" stroke-width="1.2"/>
<path d="M396.9 617.6L412.7 626.3" fill="none" stroke="#111" stroke-width="2.1"/>
<path d="M395.4 615.1L411.1 623.8" fill="none" stroke="#111" stroke-width="2.1"/>
<path d="M394.8 611.7L410.6 620.5" fill="none" stroke="#111" stroke-width="2.1"/>
<path d="M395.4 607.9L411.1 616.6" fill="none" stroke="#111" stroke-width="2.1"/>
<path d="M396.9 604.1L412.7 612.8" fill="none" stroke="#111" stroke-width="2.1"/>
<path d="M399.3 600.7L415.1 609.5" fill="none" stroke="#111" stroke-width="2.1"/>
<path d="M402.3 598.3L418 607" fill="none" stroke="#111" stroke-width="2.1"/>
<path d="M405.4 596.9L421.2 605.7" fill="none" stroke="#111" stroke-width="2.1"/>
<path d="M408.4 596.9L424.1 605.7" fill="none" stroke="#111" stroke-width="2.1"/>
<ellipse cx="419.6" cy="616.7" rx="5" ry="7.5" transform="rotate(29 419.6 616.7)" fill="#fff" stroke="#111" stroke-width="1.2"/>
<path d="M425.6 628.6L416 623.2L423.2 610.1L432.9 615.4Z" fill="#fff" stroke="none"/>
<path d="M425.6 628.6L416 623.2M432.9 615.4L423.2 610.1" stroke="#111" stroke-width="1.2" fill="none"/>
<ellipse cx="429.2" cy="622" rx="5" ry="7.5" transform="rotate(29 429.2 622)" fill="#fff" stroke="#111" stroke-width="1.2"/>
<ellipse cx="429.2" cy="622" rx="3.6" ry="5.5" transform="rotate(29 429.2 622)" fill="none" stroke="#111" stroke-width="1"/>
<path d="M452.2 685.2L450.6 689.5L452 690.1L454.6 686.3L456 686.8L454.8 691.1L456.4 691.4L458.6 687.4L460.1 687.6L459.4 691.8L461.1 691.9L462.9 687.6L464.5 687.5L464.3 691.6L466.1 691.4L467.5 687.1L469.1 686.7L469.4 690.6L471.2 690L472.1 685.7L473.8 685L474.6 688.6L476.4 687.7L476.8 683.5L478.4 682.6L479.7 685.8L481.5 684.6L481.4 680.6L483 679.4L484.7 682.2L486.4 680.8L485.8 677L487.3 675.6L489.5 677.9L491.1 676.2L490 672.8L491.4 671.2L493.9 672.9L495.4 671.1L493.9 668.1L495.1 666.3L497.9 667.5L499.2 665.5L497.3 663L498.4 661.1L501.5 661.6L502.6 659.5L500.2 657.5L501.1 655.5L504.4 655.4L505.3 653.2L502.6 651.8L503.3 649.8L506.7 649.1L507.3 646.9L504.4 646L504.9 644L508.3 642.7L508.7 640.5L505.5 640.3L505.8 638.3L509.2 636.4L509.4 634.3L506 634.7L506 632.8L509.4 630.4L509.3 628.3L505.9 629.3L505.6 627.5L508.9 624.6L508.5 622.7L505 624.3L504.6 622.7L507.6 619.4L507 617.7L503.5 619.8L502.9 618.3L505.6 614.7L504.7 613.2L501.4 615.8L500.6 614.6L503 610.6L501.9 609.4L498.8 612.5L497.7 611.5L499.7 607.3L498.4 606.4L495.6 609.8L494.3 609.1L495.9 604.9L494.5 604.2L491.9 608L490.6 607.5L491.7 603.2L490.1 602.9L487.9 606.9L486.4 606.7L487.1 602.5L485.4 602.4L483.6 606.7L482 606.8L482.2 602.7L480.4 602.9L479 607.2L477.4 607.6L477.1 603.8L475.3 604.3L474.4 608.6L472.7 609.3L471.9 605.7L470.1 606.6L469.7 610.8L468.1 611.7L466.8 608.5L465 609.7L465.1 613.7L463.5 614.9L461.8 612.1L460.1 613.6L460.7 617.3L459.2 618.7L457 616.4L455.4 618.1L456.5 621.5L455.1 623.1L452.6 621.4L451.1 623.2L452.6 626.2L451.4 628L448.6 626.8L447.3 628.8L449.2 631.3L448.1 633.2L445.1 632.7L444 634.8L446.3 636.8L445.4 638.8L442.1 638.9L441.2 641.1L443.9 642.5L443.2 644.5L439.8 645.2L439.2 647.4L442.1 648.3L441.7 650.3L438.2 651.6L437.8 653.8L441 654L440.7 656L437.3 657.9L437.1 660L440.5 659.6L440.5 661.5L437.1 663.9L437.2 666L440.7 665L440.9 666.8L437.7 669.7L438 671.6L441.5 670L441.9 671.6L438.9 674.9L439.6 676.6L443 674.5L443.6 676L440.9 679.6L441.8 681.1L445.1 678.5L445.9 679.7L443.6 683.7L444.6 684.9L447.7 681.8L448.8 682.8L446.8 687L448.1 687.9L450.9 684.5Z" fill="#fff" stroke="#111" stroke-width="1.2" stroke-linejoin="round"/>
<path d="M450.6 689.5L459.3 694.3" fill="none" stroke="#111" stroke-width="1.2"/>
<path d="M452 690.1L460.8 695" fill="none" stroke="#111" stroke-width="1.2"/>
<path d="M454.8 691.1L463.6 695.9" fill="none" stroke="#111" stroke-width="1.2"/>
<path d="M456.4 691.4L465.2 696.3" fill="none" stroke="#111" stroke-width="1.2"/>
<path d="M459.4 691.8L468.2 696.7" fill="none" stroke="#111" stroke-width="1.2"/>
<path d="M461.1 691.9L469.9 696.7" fill="none" stroke="#111" stroke-width="1.2"/>
<path d="M464.3 691.6L473.1 696.5" fill="none" stroke="#111" stroke-width="1.2"/>
<path d="M466.1 691.4L474.9 696.2" fill="none" stroke="#111" stroke-width="1.2"/>
<path d="M469.4 690.6L478.2 695.4" fill="none" stroke="#111" stroke-width="1.2"/>
<path d="M471.2 690L480 694.8" fill="none" stroke="#111" stroke-width="1.2"/>
<path d="M474.6 688.6L483.3 693.4" fill="none" stroke="#111" stroke-width="1.2"/>
<path d="M476.4 687.7L485.1 692.5" fill="none" stroke="#111" stroke-width="1.2"/>
<path d="M479.7 685.8L488.5 690.6" fill="none" stroke="#111" stroke-width="1.2"/>
<path d="M481.5 684.6L490.2 689.5" fill="none" stroke="#111" stroke-width="1.2"/>
<path d="M484.7 682.2L493.5 687" fill="none" stroke="#111" stroke-width="1.2"/>
<path d="M486.4 680.8L495.2 685.6" fill="none" stroke="#111" stroke-width="1.2"/>
<path d="M489.5 677.9L498.2 682.7" fill="none" stroke="#111" stroke-width="1.2"/>
<path d="M491.1 676.2L499.8 681.1" fill="none" stroke="#111" stroke-width="1.2"/>
<path d="M493.9 672.9L502.7 677.8" fill="none" stroke="#111" stroke-width="1.2"/>
<path d="M495.4 671.1L504.1 675.9" fill="none" stroke="#111" stroke-width="1.2"/>
<path d="M497.9 667.5L506.7 672.3" fill="none" stroke="#111" stroke-width="1.2"/>
<path d="M499.2 665.5L508 670.3" fill="none" stroke="#111" stroke-width="1.2"/>
<path d="M501.5 661.6L510.2 666.5" fill="none" stroke="#111" stroke-width="1.2"/>
<path d="M502.6 659.5L511.3 664.3" fill="none" stroke="#111" stroke-width="1.2"/>
<path d="M504.4 655.4L513.1 660.3" fill="none" stroke="#111" stroke-width="1.2"/>
<path d="M505.3 653.2L514 658.1" fill="none" stroke="#111" stroke-width="1.2"/>
<path d="M506.7 649.1L515.4 654" fill="none" stroke="#111" stroke-width="1.2"/>
<path d="M507.3 646.9L516.1 651.7" fill="none" stroke="#111" stroke-width="1.2"/>
<path d="M508.3 642.7L517.1 647.6" fill="none" stroke="#111" stroke-width="1.2"/>
<path d="M508.7 640.5L517.5 645.4" fill="none" stroke="#111" stroke-width="1.2"/>
<path d="M509.2 636.4L518 641.3" fill="none" stroke="#111" stroke-width="1.2"/>
<path d="M509.4 634.3L518.1 639.1" fill="none" stroke="#111" stroke-width="1.2"/>
<path d="M509.4 630.4L518.2 635.2" fill="none" stroke="#111" stroke-width="1.2"/>
<path d="M509.3 628.3L518 633.2" fill="none" stroke="#111" stroke-width="1.2"/>
<path d="M508.9 624.6L517.6 629.5" fill="none" stroke="#111" stroke-width="1.2"/>
<path d="M508.5 622.7L517.2 627.6" fill="none" stroke="#111" stroke-width="1.2"/>
<path d="M507.6 619.4L516.3 624.2" fill="none" stroke="#111" stroke-width="1.2"/>
<path d="M507 617.7L515.7 622.5" fill="none" stroke="#111" stroke-width="1.2"/>
<path d="M505.6 614.7L514.3 619.5" fill="none" stroke="#111" stroke-width="1.2"/>
<path d="M504.7 613.2L513.5 618" fill="none" stroke="#111" stroke-width="1.2"/>
<path d="M503 610.6L511.7 615.5" fill="none" stroke="#111" stroke-width="1.2"/>
<path d="M501.9 609.4L510.6 614.2" fill="none" stroke="#111" stroke-width="1.2"/>
<path d="M499.7 607.3L508.5 612.2" fill="none" stroke="#111" stroke-width="1.2"/>
<path d="M498.4 606.4L507.2 611.2" fill="none" stroke="#111" stroke-width="1.2"/>
<path d="M495.9 604.9L504.7 609.7" fill="none" stroke="#111" stroke-width="1.2"/>
<path d="M494.5 604.2L503.2 609" fill="none" stroke="#111" stroke-width="1.2"/>
<path d="M491.7 603.2L500.4 608.1" fill="none" stroke="#111" stroke-width="1.2"/>
<path d="M490.1 602.9L498.8 607.7" fill="none" stroke="#111" stroke-width="1.2"/>
<path d="M487.1 602.5L495.8 607.3" fill="none" stroke="#111" stroke-width="1.2"/>
<path d="M485.4 602.4L494.1 607.3" fill="none" stroke="#111" stroke-width="1.2"/>
<path d="M482.2 602.7L490.9 607.5" fill="none" stroke="#111" stroke-width="1.2"/>
<path d="M480.4 602.9L489.1 607.8" fill="none" stroke="#111" stroke-width="1.2"/>
<path d="M477.1 603.8L485.8 608.6" fill="none" stroke="#111" stroke-width="1.2"/>
<path d="M475.3 604.3L484 609.2" fill="none" stroke="#111" stroke-width="1.2"/>
<path d="M471.9 605.7L480.7 610.6" fill="none" stroke="#111" stroke-width="1.2"/>
<path d="M470.1 606.6L478.9 611.5" fill="none" stroke="#111" stroke-width="1.2"/>
<path d="M466.8 608.5L475.5 613.4" fill="none" stroke="#111" stroke-width="1.2"/>
<path d="M465 609.7L473.8 614.5" fill="none" stroke="#111" stroke-width="1.2"/>
<path d="M461.8 612.1L470.5 617" fill="none" stroke="#111" stroke-width="1.2"/>
<path d="M460.1 613.6L468.8 618.4" fill="none" stroke="#111" stroke-width="1.2"/>
<path d="M457 616.4L465.8 621.3" fill="none" stroke="#111" stroke-width="1.2"/>
<path d="M455.4 618.1L464.2 622.9" fill="none" stroke="#111" stroke-width="1.2"/>
<path d="M452.6 621.4L461.3 626.2" fill="none" stroke="#111" stroke-width="1.2"/>
<path d="M451.1 623.2L459.9 628.1" fill="none" stroke="#111" stroke-width="1.2"/>
<path d="M448.6 626.8L457.3 631.7" fill="none" stroke="#111" stroke-width="1.2"/>
<path d="M447.3 628.8L456 633.7" fill="none" stroke="#111" stroke-width="1.2"/>
<path d="M445.1 632.7L453.8 637.5" fill="none" stroke="#111" stroke-width="1.2"/>
<path d="M444 634.8L452.7 639.7" fill="none" stroke="#111" stroke-width="1.2"/>
<path d="M442.1 638.9L450.9 643.7" fill="none" stroke="#111" stroke-width="1.2"/>
<path d="M441.2 641.1L450 645.9" fill="none" stroke="#111" stroke-width="1.2"/>
<path d="M439.8 645.2L448.6 650" fill="none" stroke="#111" stroke-width="1.2"/>
<path d="M439.2 647.4L447.9 652.3" fill="none" stroke="#111" stroke-width="1.2"/>
<path d="M438.2 651.6L446.9 656.4" fill="none" stroke="#111" stroke-width="1.2"/>
<path d="M437.8 653.8L446.5 658.6" fill="none" stroke="#111" stroke-width="1.2"/>
<path d="M437.3 657.9L446 662.7" fill="none" stroke="#111" stroke-width="1.2"/>
<path d="M437.1 660L445.9 664.9" fill="none" stroke="#111" stroke-width="1.2"/>
<path d="M437.1 663.9L445.8 668.8" fill="none" stroke="#111" stroke-width="1.2"/>
<path d="M437.2 666L446 670.8" fill="none" stroke="#111" stroke-width="1.2"/>
<path d="M437.7 669.7L446.4 674.5" fill="none" stroke="#111" stroke-width="1.2"/>
<path d="M438 671.6L446.8 676.4" fill="none" stroke="#111" stroke-width="1.2"/>
<path d="M438.9 674.9L447.7 679.8" fill="none" stroke="#111" stroke-width="1.2"/>
<path d="M439.6 676.6L448.3 681.5" fill="none" stroke="#111" stroke-width="1.2"/>
<path d="M440.9 679.6L449.7 684.5" fill="none" stroke="#111" stroke-width="1.2"/>
<path d="M441.8 681.1L450.5 686" fill="none" stroke="#111" stroke-width="1.2"/>
<path d="M443.6 683.7L452.3 688.5" fill="none" stroke="#111" stroke-width="1.2"/>
<path d="M444.6 684.9L453.4 689.8" fill="none" stroke="#111" stroke-width="1.2"/>
<path d="M446.8 687L455.5 691.8" fill="none" stroke="#111" stroke-width="1.2"/>
<path d="M448.1 687.9L456.8 692.8" fill="none" stroke="#111" stroke-width="1.2"/>
<path d="M460.9 690L459.3 694.3L460.8 695L463.3 691.2L464.7 691.6L463.6 695.9L465.2 696.3L467.4 692.2L468.8 692.4L468.2 696.7L469.9 696.7L471.7 692.5L473.2 692.4L473.1 696.5L474.9 696.2L476.2 691.9L477.8 691.5L478.2 695.4L480 694.8L480.9 690.5L482.5 689.9L483.3 693.4L485.1 692.5L485.5 688.4L487.2 687.4L488.5 690.6L490.2 689.5L490.1 685.5L491.7 684.3L493.5 687L495.2 685.6L494.6 681.9L496.1 680.5L498.2 682.7L499.8 681.1L498.8 677.7L500.2 676.1L502.7 677.8L504.1 675.9L502.6 673L503.9 671.2L506.7 672.3L508 670.3L506 667.8L507.1 665.9L510.2 666.5L511.3 664.3L509 662.3L509.9 660.4L513.1 660.3L514 658.1L511.3 656.7L512 654.6L515.4 654L516.1 651.7L513.1 650.9L513.6 648.9L517.1 647.6L517.5 645.4L514.3 645.1L514.5 643.1L518 641.3L518.1 639.1L514.8 639.5L514.8 637.6L518.2 635.2L518 633.2L514.6 634.2L514.4 632.4L517.6 629.5L517.2 627.6L513.8 629.2L513.3 627.5L516.3 624.2L515.7 622.5L512.3 624.6L511.6 623.2L514.3 619.5L513.5 618L510.2 620.7L509.3 619.4L511.7 615.5L510.6 614.2L507.5 617.3L506.4 616.3L508.5 612.2L507.2 611.2L504.3 614.7L503.1 614L504.7 609.7L503.2 609L500.7 612.8L499.3 612.4L500.4 608.1L498.8 607.7L496.6 611.8L495.2 611.6L495.8 607.3L494.1 607.3L492.3 611.5L490.8 611.6L490.9 607.5L489.1 607.8L487.8 612.1L486.2 612.5L485.8 608.6L484 609.2L483.1 613.5L481.5 614.1L480.7 610.6L478.9 611.5L478.5 615.6L476.8 616.6L475.5 613.4L473.8 614.5L473.9 618.5L472.3 619.7L470.5 617L468.8 618.4L469.4 622.1L467.9 623.5L465.8 621.3L464.2 622.9L465.2 626.3L463.8 627.9L461.3 626.2L459.9 628.1L461.4 631L460.1 632.8L457.3 631.7L456 633.7L458 636.2L456.9 638.1L453.8 637.5L452.7 639.7L455 641.7L454.1 643.6L450.9 643.7L450 645.9L452.7 647.3L452 649.4L448.6 650L447.9 652.3L450.9 653.1L450.4 655.1L446.9 656.4L446.5 658.6L449.7 658.9L449.5 660.9L446 662.7L445.9 664.9L449.2 664.5L449.2 666.4L445.8 668.8L446 670.8L449.4 669.8L449.6 671.6L446.4 674.5L446.8 676.4L450.2 674.8L450.7 676.5L447.7 679.8L448.3 681.5L451.7 679.4L452.4 680.8L449.7 684.5L450.5 686L453.8 683.3L454.7 684.6L452.3 688.5L453.4 689.8L456.5 686.7L457.6 687.7L455.5 691.8L456.8 692.8L459.7 689.3Z" fill="#fff" stroke="#111" stroke-width="1.2" stroke-linejoin="round"/>
<ellipse cx="482" cy="652" rx="13.5" ry="20.5" transform="rotate(29 482 652)" fill="#fff" stroke="#111" stroke-width="1.4"/>
<ellipse cx="482.7" cy="652.4" rx="11.2" ry="17" transform="rotate(29 482.7 652.4)" fill="none" stroke="#111" stroke-width="1"/>
<ellipse cx="482" cy="652" rx="7.3" ry="11" transform="rotate(29 482 652)" fill="#2a2a2a" stroke="#111" stroke-width="1.4"/>
<path d="M478.6 661.2L476 659.8" fill="none" stroke="#ddd" stroke-width="1"/>
<path d="M481.8 660.8L474.6 656.8" fill="none" stroke="#ddd" stroke-width="1"/>
<path d="M485.1 658.7L474.7 652.9" fill="none" stroke="#ddd" stroke-width="1"/>
<path d="M487.8 655.2L476.2 648.8" fill="none" stroke="#ddd" stroke-width="1"/>
<path d="M489.3 651.1L478.9 645.3" fill="none" stroke="#ddd" stroke-width="1"/>
<path d="M489.4 647.2L482.2 643.2" fill="none" stroke="#ddd" stroke-width="1"/>
<path d="M488 644.2L485.4 642.8" fill="none" stroke="#ddd" stroke-width="1"/>
<ellipse cx="441.3" cy="628.8" rx="8.6" ry="13" transform="rotate(29 441.3 628.8)" fill="none" stroke="#111" stroke-width="1.2"/>
<ellipse cx="441.3" cy="628.8" rx="7.4" ry="11.2" transform="rotate(29 441.3 628.8)" fill="none" stroke="#111" stroke-width="1.2"/>
<ellipse cx="512.5" cy="668.8" rx="8.6" ry="13" transform="rotate(29 512.5 668.8)" fill="none" stroke="#111" stroke-width="1.2"/>
<ellipse cx="512.5" cy="668.8" rx="7.4" ry="11.2" transform="rotate(29 512.5 668.8)" fill="none" stroke="#111" stroke-width="1.2"/>
<path d="M343.8 506.3C349 504 355 505 356.5 508.6L356.5 519.7C357.5 525 358 531 358 537L356.5 559.2C355.5 564 355 568 354 570.2L342.2 581.3L315.4 597L299.6 605C293 608 289 610 285.4 606.6C281 608 276.5 608 275.9 604L279 584.5L279 548.1C279.5 544 281 542 282.2 541.8L290.1 538.7L310.7 532.3L328 527.6L336 516.5Z" fill="#fff" stroke="#111" stroke-width="1.3" stroke-linejoin="round"/>
<path d="M283.5 601L284 550L291 545M352 522L352.5 558L349 568M336 516.5L340 521L349 522M291 545L312 538L330 533L340 521" fill="none" stroke="#111" stroke-width="1"/>
<path d="M350.1 535.5 Q350 529.5 344.6 532.1L305.9 550.9 Q300.5 553.5 300.2 559.5L298.8 590 Q298.5 596 304 593.5L345 575 Q350.5 572.5 350.4 566.5Z" fill="#fff" stroke="#111" stroke-width="1.3" stroke-linejoin="round"/>
<path d="M303.5 559L302.5 590M345.5 536L346.5 567" fill="none" stroke="#111" stroke-width="0.9"/>
<ellipse cx="345.4" cy="535.5" rx="2.3" ry="2.8" fill="#fff" stroke="#111" stroke-width="1.2"/>
<ellipse cx="306.7" cy="556.8" rx="2.3" ry="2.8" fill="#fff" stroke="#111" stroke-width="1.2"/>
<ellipse cx="303.5" cy="590.8" rx="2.3" ry="2.8" fill="#fff" stroke="#111" stroke-width="1.2"/>
<ellipse cx="344.6" cy="570.2" rx="2.3" ry="2.8" fill="#fff" stroke="#111" stroke-width="1.2"/>
<ellipse cx="353.3" cy="513.4" rx="2.3" ry="2.8" fill="#fff" stroke="#111" stroke-width="1.2"/>
<ellipse cx="285.4" cy="601.5" rx="2.3" ry="2.8" fill="#fff" stroke="#111" stroke-width="1.2"/>
<ellipse cx="326.5" cy="565.5" rx="17.8" ry="27.4" transform="rotate(29 326.5 565.5)" fill="#fff" stroke="#111" stroke-width="1.6"/>
<ellipse cx="326.5" cy="565.5" rx="16.3" ry="25.5" transform="rotate(29 326.5 565.5)" fill="none" stroke="#111" stroke-width="1"/>
<ellipse cx="326.5" cy="565.5" rx="12.4" ry="21.4" transform="rotate(29 326.5 565.5)" fill="#fff" stroke="#111" stroke-width="1.6"/>
<path d="M310.9 581.3L312.4 581.9L314 582.2L315.8 582.2L317.7 581.8L319.6 581.1L321.6 580.1L323.5 578.8L325.5 577.2L327.3 575.3L329.1 573.2L330.7 571L332.1 568.6L333.4 566.1L334.4 563.6L335.3 561L335.8 558.4L336.2 556L336.3 553.6L336.1 551.4L335.7 549.4L335 547.6L334.1 546.1L333 544.8L331.6 543.9" fill="none" stroke="#111" stroke-width="1.2"/>
<ellipse cx="257.2" cy="525.4" rx="17.8" ry="27" transform="rotate(29 257.2 525.4)" fill="#fff" stroke="#111" stroke-width="1.2"/>
<path d="M254.6 554.8L244.1 549L270.3 501.8L280.8 507.6Z" fill="#fff" stroke="none"/>
<path d="M254.6 554.8L244.1 549M280.8 507.6L270.3 501.8" stroke="#111" stroke-width="1.2" fill="none"/>
<ellipse cx="267.7" cy="531.2" rx="17.8" ry="27" transform="rotate(29 267.7 531.2)" fill="#fff" stroke="#111" stroke-width="1.2"/>
<ellipse cx="267.7" cy="531.2" rx="15.2" ry="23.1" transform="rotate(29 267.7 531.2)" fill="#fff" stroke="#111" stroke-width="1.2"/>
<ellipse cx="267.7" cy="531.2" rx="14.2" ry="21.6" transform="rotate(29 267.7 531.2)" fill="none" stroke="#111" stroke-width="1"/>
<ellipse cx="282.1" cy="519.1" rx="2" ry="2.2" fill="#fff" stroke="#111" stroke-width="1"/>
<ellipse cx="253.3" cy="543.3" rx="2" ry="2.2" fill="#fff" stroke="#111" stroke-width="1"/>
<ellipse cx="267.7" cy="531.2" rx="11.5" ry="17.5" transform="rotate(29 267.7 531.2)" fill="#fff" stroke="#111" stroke-width="1.2"/>
<clipPath id="cp6"><ellipse cx="267.7" cy="531.2" rx="8.6" ry="13" transform="rotate(29 267.7 531.2)"/></clipPath>
<ellipse cx="267.7" cy="531.2" rx="8.6" ry="13" transform="rotate(29 267.7 531.2)" fill="#fff" stroke="#111" stroke-width="1.2"/>
<g clip-path="url(#cp6)"><ellipse cx="260.4" cy="527.1" rx="8.6" ry="13" transform="rotate(29 260.4 527.1)" fill="none" stroke="#111" stroke-width="1.1"/></g>
<ellipse cx="232.6" cy="511" rx="10.2" ry="15.5" transform="rotate(29 232.6 511)" fill="#fff" stroke="#111" stroke-width="1.2"/>
<path d="M226.8 525.6L225 524.6L240.1 497.5L241.8 498.4Z" fill="#fff" stroke="none"/>
<path d="M226.8 525.6L225 524.6M241.8 498.4L240.1 497.5" stroke="#111" stroke-width="1.2" fill="none"/>
<ellipse cx="234.3" cy="512" rx="10.2" ry="15.5" transform="rotate(29 234.3 512)" fill="#fff" stroke="#111" stroke-width="1.2"/>
<ellipse cx="234.3" cy="512" rx="7.9" ry="12" transform="rotate(29 234.3 512)" fill="#fff" stroke="#111" stroke-width="1.2"/>
<path d="M217 465.6C217.1 462.7 217.5 460.4 219 459.1C220.5 457.9 224 457.8 226 458.1C228 458.4 230.1 459.4 231 461.1C231.9 462.9 231.8 466.4 231.5 468.6C231.2 470.9 229.7 472.6 229 474.6C228.3 476.6 228 478.1 227.5 480.6C227 483.1 225.8 487.1 226 489.8C226.2 492.5 228 494.5 228.5 496.8C229 499.1 229.6 501.6 229 503.8C228.4 506 226.8 508.7 225 509.8C223.2 510.9 219.8 511.1 218 510.3C216.2 509.6 214.7 507.2 214 505.3C213.3 503.4 213.4 501.1 214 498.8C214.6 496.6 216.4 494.2 217.5 491.8C218.6 489.4 220.3 487.1 220.5 484.6C220.7 482.1 219.1 479.8 218.5 476.6C217.9 473.4 216.9 468.5 217 465.6Z" fill="#fff" stroke="#111" stroke-width="1.3"/>
<path d="M219 469.6 C220 479.6 220 487.8 216 503.8" fill="none" stroke="#111" stroke-width="0.9"/>
<ellipse cx="225" cy="467.6" rx="2.4" ry="3" transform="rotate(29 225 467.6)" fill="#fff" stroke="#111" stroke-width="1.2"/>
<ellipse cx="223" cy="501.8" rx="2.4" ry="3" transform="rotate(29 223 501.8)" fill="#fff" stroke="#111" stroke-width="1.2"/>
<path d="M176.9 488C177 485.1 177.4 482.8 178.9 481.5C180.4 480.2 183.9 480.2 185.9 480.5C187.9 480.8 190 481.8 190.9 483.5C191.8 485.2 191.7 488.8 191.4 491C191.1 493.2 189.6 495 188.9 497C188.2 499 188 500.6 187.4 503C186.8 505.4 185.1 509 185.2 511.6C185.2 514.2 187.2 516.3 187.7 518.6C188.2 520.9 188.8 523.4 188.2 525.6C187.6 527.8 186 530.5 184.2 531.6C182.4 532.7 179 532.9 177.2 532.1C175.4 531.4 173.9 529 173.2 527.1C172.5 525.2 172.6 522.9 173.2 520.6C173.8 518.4 175.5 515.9 176.7 513.6C177.9 511.3 180.1 509.4 180.4 507C180.7 504.6 179 502.2 178.4 499C177.8 495.8 176.8 490.9 176.9 488Z" fill="#fff" stroke="#111" stroke-width="1.3"/>
<path d="M178.9 492 C179.9 502 179.2 509.6 175.2 525.6" fill="none" stroke="#111" stroke-width="0.9"/>
<ellipse cx="184.9" cy="490" rx="2.4" ry="3" transform="rotate(29 184.9 490)" fill="#fff" stroke="#111" stroke-width="1.2"/>
<ellipse cx="182.2" cy="523.6" rx="2.4" ry="3" transform="rotate(29 182.2 523.6)" fill="#fff" stroke="#111" stroke-width="1.2"/>
<ellipse cx="186.2" cy="445.9" rx="5" ry="7.5" transform="rotate(29 186.2 445.9)" fill="#fff" stroke="#111" stroke-width="1.2"/>
<path d="M183.9 453.2L182.6 452.5L189.8 439.3L191.1 440.1Z" fill="#fff" stroke="none"/>
<path d="M183.9 453.2L182.6 452.5M191.1 440.1L189.8 439.3" stroke="#111" stroke-width="1.2" fill="none"/>
<ellipse cx="187.5" cy="446.6" rx="5" ry="7.5" transform="rotate(29 187.5 446.6)" fill="#fff" stroke="#111" stroke-width="1.2"/>
<ellipse cx="187.5" cy="446.6" rx="2.2" ry="3.4" transform="rotate(29 187.5 446.6)" fill="#fff" stroke="#111" stroke-width="1.2"/>
<path d="M201.2 458.1L185.9 449.6L189.2 443.7L204.5 452.1Z" fill="#fff" stroke="none"/>
<path d="M201.2 458.1L185.9 449.6M204.5 452.1L189.2 443.7" stroke="#111" stroke-width="1.2" fill="none"/>
<ellipse cx="202.8" cy="455.1" rx="2.2" ry="3.4" transform="rotate(29 202.8 455.1)" fill="#fff" stroke="#111" stroke-width="1.2"/>
<ellipse cx="164.5" cy="463" rx="5" ry="7.5" transform="rotate(29 164.5 463)" fill="#fff" stroke="#111" stroke-width="1.2"/>
<path d="M162.2 470.3L160.9 469.6L168.1 456.4L169.4 457.2Z" fill="#fff" stroke="none"/>
<path d="M162.2 470.3L160.9 469.6M169.4 457.2L168.1 456.4" stroke="#111" stroke-width="1.2" fill="none"/>
<ellipse cx="165.8" cy="463.7" rx="5" ry="7.5" transform="rotate(29 165.8 463.7)" fill="#fff" stroke="#111" stroke-width="1.2"/>
<ellipse cx="165.8" cy="463.7" rx="2.2" ry="3.4" transform="rotate(29 165.8 463.7)" fill="#fff" stroke="#111" stroke-width="1.2"/>
<path d="M179.5 475.2L164.2 466.7L167.5 460.8L182.8 469.2Z" fill="#fff" stroke="none"/>
<path d="M179.5 475.2L164.2 466.7M182.8 469.2L167.5 460.8" stroke="#111" stroke-width="1.2" fill="none"/>
<ellipse cx="181.1" cy="472.2" rx="2.2" ry="3.4" transform="rotate(29 181.1 472.2)" fill="#fff" stroke="#111" stroke-width="1.2"/>
<ellipse cx="136.2" cy="465.7" rx="5" ry="7.5" transform="rotate(29 136.2 465.7)" fill="#fff" stroke="#111" stroke-width="1.2"/>
<path d="M133.9 473L132.6 472.3L139.8 459.1L141.1 459.9Z" fill="#fff" stroke="none"/>
<path d="M133.9 473L132.6 472.3M141.1 459.9L139.8 459.1" stroke="#111" stroke-width="1.2" fill="none"/>
<ellipse cx="137.5" cy="466.4" rx="5" ry="7.5" transform="rotate(29 137.5 466.4)" fill="#fff" stroke="#111" stroke-width="1.2"/>
<ellipse cx="137.5" cy="466.4" rx="2.2" ry="3.4" transform="rotate(29 137.5 466.4)" fill="#fff" stroke="#111" stroke-width="1.2"/>
<path d="M151.2 477.9L135.9 469.4L139.2 463.5L154.5 471.9Z" fill="#fff" stroke="none"/>
<path d="M151.2 477.9L135.9 469.4M154.5 471.9L139.2 463.5" stroke="#111" stroke-width="1.2" fill="none"/>
<ellipse cx="152.8" cy="474.9" rx="2.2" ry="3.4" transform="rotate(29 152.8 474.9)" fill="#fff" stroke="#111" stroke-width="1.2"/>
<ellipse cx="144.1" cy="501.8" rx="5" ry="7.5" transform="rotate(29 144.1 501.8)" fill="#fff" stroke="#111" stroke-width="1.2"/>
<path d="M141.8 509.1L140.5 508.4L147.7 495.2L149 496Z" fill="#fff" stroke="none"/>
<path d="M141.8 509.1L140.5 508.4M149 496L147.7 495.2" stroke="#111" stroke-width="1.2" fill="none"/>
<ellipse cx="145.4" cy="502.5" rx="5" ry="7.5" transform="rotate(29 145.4 502.5)" fill="#fff" stroke="#111" stroke-width="1.2"/>
<ellipse cx="145.4" cy="502.5" rx="2.2" ry="3.4" transform="rotate(29 145.4 502.5)" fill="#fff" stroke="#111" stroke-width="1.2"/>
<path d="M159.1 514L143.8 505.5L147.1 499.6L162.4 508Z" fill="#fff" stroke="none"/>
<path d="M159.1 514L143.8 505.5M162.4 508L147.1 499.6" stroke="#111" stroke-width="1.2" fill="none"/>
<ellipse cx="160.7" cy="511" rx="2.2" ry="3.4" transform="rotate(29 160.7 511)" fill="#fff" stroke="#111" stroke-width="1.2"/>
<path d="M126.9 397L127.9 390.1L133.2 385.6L137.5 388L141 390L140 396.8L134.7 401.3L130.4 398.9Z" fill="#fff" stroke="#111" stroke-width="1.2" stroke-linejoin="round"/>
<path d="M141 390L137.5 388" fill="none" stroke="#111" stroke-width="1.1"/>
<path d="M136.7 387.6L133.2 385.6" fill="none" stroke="#111" stroke-width="1.1"/>
<path d="M131.4 392L127.9 390.1" fill="none" stroke="#111" stroke-width="1.1"/>
<path d="M130.4 398.9L126.9 397" fill="none" stroke="#111" stroke-width="1.1"/>
<path d="M134.7 401.3L140 396.8L141 390L136.7 387.6L131.4 392L130.4 398.9Z" fill="#fff" stroke="#111" stroke-width="1.2" stroke-linejoin="round"/>
<ellipse cx="135.7" cy="394.4" rx="4.8" ry="7.2" transform="rotate(29 135.7 394.4)" fill="#fff" stroke="#111" stroke-width="1.2"/>
<path d="M133.3 401.3L132.2 400.7L139.2 388.1L140.2 388.7Z" fill="#fff" stroke="none"/>
<path d="M133.3 401.3L132.2 400.7M140.2 388.7L139.2 388.1" stroke="#111" stroke-width="1.2" fill="none"/>
<ellipse cx="136.7" cy="395" rx="4.8" ry="7.2" transform="rotate(29 136.7 395)" fill="#fff" stroke="#111" stroke-width="1.2"/>
<ellipse cx="136.7" cy="395" rx="2.2" ry="3.3" transform="rotate(29 136.7 395)" fill="#fff" stroke="#111" stroke-width="1.2"/>
<path d="M149.8 406.1L135.1 397.9L138.3 392.1L153 400.3Z" fill="#fff" stroke="none"/>
<path d="M149.8 406.1L135.1 397.9M153 400.3L138.3 392.1" stroke="#111" stroke-width="1.2" fill="none"/>
<ellipse cx="151.4" cy="403.2" rx="2.2" ry="3.3" transform="rotate(29 151.4 403.2)" fill="#fff" stroke="#111" stroke-width="1.2"/>
<path d="M60.8 433.7L61.8 426.8L67.1 422.3L71.4 424.7L74.9 426.7L73.9 433.5L68.6 438L64.3 435.6Z" fill="#fff" stroke="#111" stroke-width="1.2" stroke-linejoin="round"/>
<path d="M74.9 426.7L71.4 424.7" fill="none" stroke="#111" stroke-width="1.1"/>
<path d="M70.6 424.3L67.1 422.3" fill="none" stroke="#111" stroke-width="1.1"/>
<path d="M65.3 428.7L61.8 426.8" fill="none" stroke="#111" stroke-width="1.1"/>
<path d="M64.3 435.6L60.8 433.7" fill="none" stroke="#111" stroke-width="1.1"/>
<path d="M68.6 438L73.9 433.5L74.9 426.7L70.6 424.3L65.3 428.7L64.3 435.6Z" fill="#fff" stroke="#111" stroke-width="1.2" stroke-linejoin="round"/>
<ellipse cx="69.6" cy="431.1" rx="4.8" ry="7.2" transform="rotate(29 69.6 431.1)" fill="#fff" stroke="#111" stroke-width="1.2"/>
<path d="M67.2 438L66.1 437.4L73.1 424.8L74.1 425.4Z" fill="#fff" stroke="none"/>
<path d="M67.2 438L66.1 437.4M74.1 425.4L73.1 424.8" stroke="#111" stroke-width="1.2" fill="none"/>
<ellipse cx="70.6" cy="431.7" rx="4.8" ry="7.2" transform="rotate(29 70.6 431.7)" fill="#fff" stroke="#111" stroke-width="1.2"/>
<ellipse cx="70.6" cy="431.7" rx="2.2" ry="3.3" transform="rotate(29 70.6 431.7)" fill="#fff" stroke="#111" stroke-width="1.2"/>
<path d="M83.7 442.8L69 434.6L72.2 428.8L86.9 437Z" fill="#fff" stroke="none"/>
<path d="M83.7 442.8L69 434.6M86.9 437L72.2 428.8" stroke="#111" stroke-width="1.2" fill="none"/>
<ellipse cx="85.3" cy="439.9" rx="2.2" ry="3.3" transform="rotate(29 85.3 439.9)" fill="#fff" stroke="#111" stroke-width="1.2"/>
<path d="M115.4 442.7L116.4 435.8L121.7 431.3L126 433.7L129.5 435.7L128.5 442.5L123.2 447L118.9 444.6Z" fill="#fff" stroke="#111" stroke-width="1.2" stroke-linejoin="round"/>
<path d="M129.5 435.7L126 433.7" fill="none" stroke="#111" stroke-width="1.1"/>
<path d="M125.2 433.3L121.7 431.3" fill="none" stroke="#111" stroke-width="1.1"/>
<path d="M119.9 437.7L116.4 435.8" fill="none" stroke="#111" stroke-width="1.1"/>
<path d="M118.9 444.6L115.4 442.7" fill="none" stroke="#111" stroke-width="1.1"/>
<path d="M123.2 447L128.5 442.5L129.5 435.7L125.2 433.3L119.9 437.7L118.9 444.6Z" fill="#fff" stroke="#111" stroke-width="1.2" stroke-linejoin="round"/>
<ellipse cx="124.2" cy="440.1" rx="4.8" ry="7.2" transform="rotate(29 124.2 440.1)" fill="#fff" stroke="#111" stroke-width="1.2"/>
<path d="M121.8 447L120.7 446.4L127.7 433.8L128.7 434.4Z" fill="#fff" stroke="none"/>
<path d="M121.8 447L120.7 446.4M128.7 434.4L127.7 433.8" stroke="#111" stroke-width="1.2" fill="none"/>
<ellipse cx="125.2" cy="440.7" rx="4.8" ry="7.2" transform="rotate(29 125.2 440.7)" fill="#fff" stroke="#111" stroke-width="1.2"/>
<ellipse cx="125.2" cy="440.7" rx="2.2" ry="3.3" transform="rotate(29 125.2 440.7)" fill="#fff" stroke="#111" stroke-width="1.2"/>
<path d="M138.3 451.8L123.6 443.6L126.8 437.8L141.5 446Z" fill="#fff" stroke="none"/>
<path d="M138.3 451.8L123.6 443.6M141.5 446L126.8 437.8" stroke="#111" stroke-width="1.2" fill="none"/>
<ellipse cx="139.9" cy="448.9" rx="2.2" ry="3.3" transform="rotate(29 139.9 448.9)" fill="#fff" stroke="#111" stroke-width="1.2"/>
<path d="M61.7 487.9L62.7 481L68 476.5L72.3 478.9L75.8 480.9L74.8 487.7L69.5 492.2L65.2 489.8Z" fill="#fff" stroke="#111" stroke-width="1.2" stroke-linejoin="round"/>
<path d="M75.8 480.9L72.3 478.9" fill="none" stroke="#111" stroke-width="1.1"/>
<path d="M71.5 478.5L68 476.5" fill="none" stroke="#111" stroke-width="1.1"/>
<path d="M66.2 482.9L62.7 481" fill="none" stroke="#111" stroke-width="1.1"/>
<path d="M65.2 489.8L61.7 487.9" fill="none" stroke="#111" stroke-width="1.1"/>
<path d="M69.5 492.2L74.8 487.7L75.8 480.9L71.5 478.5L66.2 482.9L65.2 489.8Z" fill="#fff" stroke="#111" stroke-width="1.2" stroke-linejoin="round"/>
<ellipse cx="70.5" cy="485.3" rx="4.8" ry="7.2" transform="rotate(29 70.5 485.3)" fill="#fff" stroke="#111" stroke-width="1.2"/>
<path d="M68.1 492.2L67 491.6L74 479L75 479.6Z" fill="#fff" stroke="none"/>
<path d="M68.1 492.2L67 491.6M75 479.6L74 479" stroke="#111" stroke-width="1.2" fill="none"/>
<ellipse cx="71.5" cy="485.9" rx="4.8" ry="7.2" transform="rotate(29 71.5 485.9)" fill="#fff" stroke="#111" stroke-width="1.2"/>
<ellipse cx="71.5" cy="485.9" rx="2.2" ry="3.3" transform="rotate(29 71.5 485.9)" fill="#fff" stroke="#111" stroke-width="1.2"/>
<path d="M84.6 497L69.9 488.8L73.1 483L87.8 491.2Z" fill="#fff" stroke="none"/>
<path d="M84.6 497L69.9 488.8M87.8 491.2L73.1 483" stroke="#111" stroke-width="1.2" fill="none"/>
<ellipse cx="86.2" cy="494.1" rx="2.2" ry="3.3" transform="rotate(29 86.2 494.1)" fill="#fff" stroke="#111" stroke-width="1.2"/>
<path d="M52.2 708.2L72 683.5L76 686L77 686L101 674.5L105 676L107.2 693.6L80.2 705L79.5 713.3L56.8 710.8Z" fill="#fff" stroke="#111" stroke-width="1.1" stroke-linejoin="round"/>
<path d="M56.8 710.8L76 686.5M78 689.5L104.7 677M104.7 677L107.2 693.6M78 689.5L80.2 705" fill="none" stroke="#111" stroke-width="0.9"/>
<text font-family="Liberation Sans" font-size="16" font-weight="bold" fill="#111" transform="translate(75 707.5) skewY(-25)" textLength="26" lengthAdjust="spacingAndGlyphs">FWD</text>
<path d="M592.8 497.4L575.3 507.1" fill="none" stroke="#111" stroke-width="1.1"/>
<path d="M622 483L609.8 489.8" fill="none" stroke="#111" stroke-width="1.1"/>
<path d="M676 452L655 463.6" fill="none" stroke="#111" stroke-width="1.1"/>
<path d="M735.3 422.1L707.3 437.6" fill="none" stroke="#111" stroke-width="1.1"/>
<path d="M791.9 388.2L764.8 403.2" fill="none" stroke="#111" stroke-width="1.1"/>
<path d="M762 389L723.1 410" fill="none" stroke="#111" stroke-width="1.1"/>
<path d="M273.4 427L293.7 414.2" fill="none" stroke="#111" stroke-width="1.1"/>
<path d="M339.7 388.4L367.3 373.7" fill="none" stroke="#111" stroke-width="1.1"/>
<path d="M391.3 361.7L409.7 351.6" fill="none" stroke="#111" stroke-width="1.1"/>
<path d="M444 332L433.5 337.8" fill="none" stroke="#111" stroke-width="1.1"/>
<path d="M466 322L478 316" fill="none" stroke="#111" stroke-width="1.1"/>
<path d="M522.1 536.8L545 524.5" fill="none" stroke="#111" stroke-width="1.1"/>
<path d="M250 525.9L271.2 537.9" fill="none" stroke="#111" stroke-width="1.1"/>
</svg></body></html>
